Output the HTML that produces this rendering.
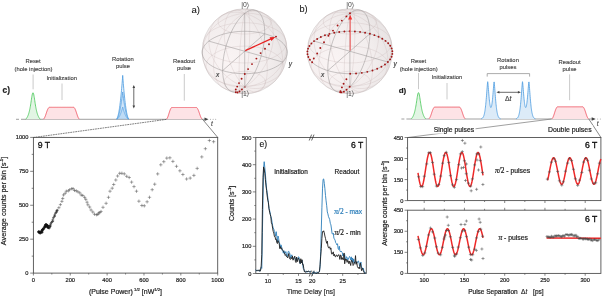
<!DOCTYPE html>
<html><head><meta charset="utf-8"><style>
html,body{margin:0;padding:0;background:#fff;}
svg{display:block;will-change:transform;font-family:"Liberation Sans", sans-serif;}
</style></head><body>
<svg width="602" height="296" viewBox="0 0 602 296">
<rect width="602" height="296" fill="#fff"/>
<line x1="16" y1="119.3" x2="19" y2="119.3" stroke="#888" stroke-width="0.8" />
<line x1="21" y1="119.3" x2="205" y2="119.3" stroke="#888" stroke-width="0.8" />
<path d="M208.5,119.3 L204.5,117.6 L204.5,121 Z" fill="#444"/>
<circle cx="210.5" cy="119.3" r="0.5" fill="#999"/>
<circle cx="213.1" cy="119.3" r="0.5" fill="#999"/>
<circle cx="215.7" cy="119.3" r="0.5" fill="#999"/>
<text x="211.8" y="125.9" font-size="6.5" text-anchor="middle" fill="#555" font-weight="normal" font-style="italic" stroke="#555" stroke-width="0.2" >t</text>
<path d="M24.2,119.3 L24.2,119.3 L24.42,119.3 L24.64,119.3 L24.86,119.3 L25.08,119.3 L25.3,119.3 L25.52,119.3 L25.74,119.26 L25.96,119.01 L26.18,118.75 L26.4,118.47 L26.62,118.16 L26.84,117.83 L27.06,117.47 L27.28,117.08 L27.5,116.66 L27.72,116.2 L27.94,115.71 L28.16,115.16 L28.38,114.57 L28.6,113.93 L28.82,113.22 L29.04,112.45 L29.26,111.62 L29.48,110.71 L29.7,109.72 L29.92,108.66 L30.14,107.5 L30.36,106.27 L30.58,104.96 L30.8,103.57 L31.02,102.13 L31.24,100.66 L31.46,99.18 L31.68,97.74 L31.9,96.38 L32.12,95.16 L32.34,94.14 L32.56,93.35 L32.78,92.87 L33,92.7 L33.22,92.87 L33.44,93.35 L33.66,94.14 L33.88,95.16 L34.1,96.38 L34.32,97.74 L34.54,99.18 L34.76,100.66 L34.98,102.13 L35.2,103.57 L35.42,104.96 L35.64,106.27 L35.86,107.5 L36.08,108.66 L36.3,109.72 L36.52,110.71 L36.74,111.62 L36.96,112.45 L37.18,113.22 L37.4,113.93 L37.62,114.57 L37.84,115.16 L38.06,115.71 L38.28,116.2 L38.5,116.66 L38.72,117.08 L38.94,117.47 L39.16,117.83 L39.38,118.16 L39.6,118.47 L39.82,118.75 L40.04,119.01 L40.26,119.26 L40.48,119.3 L40.7,119.3 L40.92,119.3 L41.14,119.3 L41.36,119.3 L41.58,119.3 L41.8,119.3 L41.8,119.3 Z" stroke="none" stroke-width="0" fill="#e2f5e4" />
<path d="M25.74,119.26 L25.96,119.01 L26.18,118.75 L26.4,118.47 L26.62,118.16 L26.84,117.83 L27.06,117.47 L27.28,117.08 L27.5,116.66 L27.72,116.2 L27.94,115.71 L28.16,115.16 L28.38,114.57 L28.6,113.93 L28.82,113.22 L29.04,112.45 L29.26,111.62 L29.48,110.71 L29.7,109.72 L29.92,108.66 L30.14,107.5 L30.36,106.27 L30.58,104.96 L30.8,103.57 L31.02,102.13 L31.24,100.66 L31.46,99.18 L31.68,97.74 L31.9,96.38 L32.12,95.16 L32.34,94.14 L32.56,93.35 L32.78,92.87 L33,92.7 L33.22,92.87 L33.44,93.35 L33.66,94.14 L33.88,95.16 L34.1,96.38 L34.32,97.74 L34.54,99.18 L34.76,100.66 L34.98,102.13 L35.2,103.57 L35.42,104.96 L35.64,106.27 L35.86,107.5 L36.08,108.66 L36.3,109.72 L36.52,110.71 L36.74,111.62 L36.96,112.45 L37.18,113.22 L37.4,113.93 L37.62,114.57 L37.84,115.16 L38.06,115.71 L38.28,116.2 L38.5,116.66 L38.72,117.08 L38.94,117.47 L39.16,117.83 L39.38,118.16 L39.6,118.47 L39.82,118.75 L40.04,119.01 L40.26,119.26" stroke="#45c655" stroke-width="0.8" fill="none" />
<path d="M42.4,119.3 L42.4,119.3 L42.64,119.3 L42.88,119.3 L43.11,119.3 L43.35,119.3 L43.59,119.11 L43.82,118.84 L44.06,118.53 L44.3,118.16 L44.54,117.74 L44.77,117.27 L45.01,116.74 L45.25,116.16 L45.49,115.53 L45.73,114.87 L45.96,114.17 L46.2,113.45 L46.44,112.73 L46.67,112.03 L46.91,111.34 L47.15,110.7 L47.39,110.09 L47.62,109.54 L47.86,109.05 L48.1,108.61 L48.34,108.22 L48.58,107.88 L48.81,107.59 L49.05,107.35 L49.29,107.3 L49.52,107.3 L49.76,107.3 L50,107.3 L50.24,107.3 L50.48,107.3 L50.71,107.3 L50.95,107.3 L51.19,107.3 L51.42,107.3 L51.66,107.3 L51.9,107.3 L52.14,107.3 L52.38,107.3 L52.61,107.3 L52.85,107.3 L53.09,107.3 L53.33,107.3 L53.56,107.3 L53.8,107.3 L54.04,107.3 L54.28,107.3 L54.51,107.3 L54.75,107.3 L54.99,107.3 L55.23,107.3 L55.46,107.3 L55.7,107.3 L55.94,107.3 L56.17,107.3 L56.41,107.3 L56.65,107.3 L56.89,107.3 L57.12,107.3 L57.36,107.3 L57.6,107.3 L57.84,107.3 L58.08,107.3 L58.31,107.3 L58.55,107.3 L58.79,107.3 L59.03,107.3 L59.26,107.3 L59.5,107.3 L59.74,107.3 L59.98,107.3 L60.21,107.3 L60.45,107.3 L60.69,107.3 L60.92,107.3 L61.16,107.3 L61.4,107.3 L61.64,107.3 L61.88,107.3 L62.11,107.3 L62.35,107.3 L62.59,107.3 L62.83,107.3 L63.06,107.3 L63.3,107.3 L63.54,107.3 L63.78,107.3 L64.01,107.3 L64.25,107.3 L64.49,107.3 L64.72,107.3 L64.96,107.3 L65.2,107.3 L65.44,107.3 L65.68,107.3 L65.91,107.3 L66.15,107.3 L66.39,107.3 L66.62,107.3 L66.86,107.3 L67.1,107.3 L67.34,107.3 L67.58,107.3 L67.81,107.3 L68.05,107.3 L68.29,107.3 L68.53,107.3 L68.76,107.3 L69,107.3 L69.24,107.3 L69.48,107.3 L69.71,107.3 L69.95,107.3 L70.19,107.3 L70.43,107.3 L70.66,107.3 L70.9,107.3 L71.14,107.3 L71.38,107.3 L71.61,107.3 L71.85,107.3 L72.09,107.3 L72.33,107.3 L72.56,107.3 L72.8,107.3 L73.04,107.3 L73.28,107.3 L73.51,107.3 L73.75,107.3 L73.99,107.39 L74.23,107.65 L74.46,107.96 L74.7,108.32 L74.94,108.74 L75.18,109.22 L75.41,109.75 L75.65,110.34 L75.89,110.99 L76.12,111.68 L76.36,112.4 L76.6,113.14 L76.84,113.89 L77.08,114.62 L77.31,115.32 L77.55,115.99 L77.79,116.61 L78.03,117.17 L78.26,117.67 L78.5,118.11 L78.74,118.49 L78.97,118.82 L79.21,119.11 L79.45,119.3 L79.69,119.3 L79.93,119.3 L80.16,119.3 L80.4,119.3 L80.4,119.3 Z" stroke="none" stroke-width="0" fill="#fde3e6" />
<path d="M43.59,119.11 L43.82,118.84 L44.06,118.53 L44.3,118.16 L44.54,117.74 L44.77,117.27 L45.01,116.74 L45.25,116.16 L45.49,115.53 L45.73,114.87 L45.96,114.17 L46.2,113.45 L46.44,112.73 L46.67,112.03 L46.91,111.34 L47.15,110.7 L47.39,110.09 L47.62,109.54 L47.86,109.05 L48.1,108.61 L48.34,108.22 L48.58,107.88 L48.81,107.59 L49.05,107.35 L49.29,107.3 L49.52,107.3 L49.76,107.3 L50,107.3 L50.24,107.3 L50.48,107.3 L50.71,107.3 L50.95,107.3 L51.19,107.3 L51.42,107.3 L51.66,107.3 L51.9,107.3 L52.14,107.3 L52.38,107.3 L52.61,107.3 L52.85,107.3 L53.09,107.3 L53.33,107.3 L53.56,107.3 L53.8,107.3 L54.04,107.3 L54.28,107.3 L54.51,107.3 L54.75,107.3 L54.99,107.3 L55.23,107.3 L55.46,107.3 L55.7,107.3 L55.94,107.3 L56.17,107.3 L56.41,107.3 L56.65,107.3 L56.89,107.3 L57.12,107.3 L57.36,107.3 L57.6,107.3 L57.84,107.3 L58.08,107.3 L58.31,107.3 L58.55,107.3 L58.79,107.3 L59.03,107.3 L59.26,107.3 L59.5,107.3 L59.74,107.3 L59.98,107.3 L60.21,107.3 L60.45,107.3 L60.69,107.3 L60.92,107.3 L61.16,107.3 L61.4,107.3 L61.64,107.3 L61.88,107.3 L62.11,107.3 L62.35,107.3 L62.59,107.3 L62.83,107.3 L63.06,107.3 L63.3,107.3 L63.54,107.3 L63.78,107.3 L64.01,107.3 L64.25,107.3 L64.49,107.3 L64.72,107.3 L64.96,107.3 L65.2,107.3 L65.44,107.3 L65.68,107.3 L65.91,107.3 L66.15,107.3 L66.39,107.3 L66.62,107.3 L66.86,107.3 L67.1,107.3 L67.34,107.3 L67.58,107.3 L67.81,107.3 L68.05,107.3 L68.29,107.3 L68.53,107.3 L68.76,107.3 L69,107.3 L69.24,107.3 L69.48,107.3 L69.71,107.3 L69.95,107.3 L70.19,107.3 L70.43,107.3 L70.66,107.3 L70.9,107.3 L71.14,107.3 L71.38,107.3 L71.61,107.3 L71.85,107.3 L72.09,107.3 L72.33,107.3 L72.56,107.3 L72.8,107.3 L73.04,107.3 L73.28,107.3 L73.51,107.3 L73.75,107.3 L73.99,107.39 L74.23,107.65 L74.46,107.96 L74.7,108.32 L74.94,108.74 L75.18,109.22 L75.41,109.75 L75.65,110.34 L75.89,110.99 L76.12,111.68 L76.36,112.4 L76.6,113.14 L76.84,113.89 L77.08,114.62 L77.31,115.32 L77.55,115.99 L77.79,116.61 L78.03,117.17 L78.26,117.67 L78.5,118.11 L78.74,118.49 L78.97,118.82 L79.21,119.11" stroke="#ee4d5c" stroke-width="0.85" fill="none" />
<path d="M114.5,119.3 L114.5,119.3 L114.7,119.3 L114.91,119.3 L115.11,119.3 L115.32,119.3 L115.53,119.3 L115.73,119.3 L115.94,119.3 L116.14,119.3 L116.34,119.28 L116.55,119.24 L116.75,119.17 L116.96,119.09 L117.17,118.99 L117.37,118.86 L117.58,118.71 L117.78,118.54 L117.98,118.34 L118.19,118.12 L118.39,117.88 L118.6,117.62 L118.81,117.32 L119.01,117.01 L119.22,116.67 L119.42,116.3 L119.62,115.91 L119.83,115.5 L120.03,115.06 L120.24,114.59 L120.44,114.1 L120.65,113.59 L120.86,113.05 L121.06,112.48 L121.27,111.89 L121.47,111.27 L121.67,110.62 L121.88,109.95 L122.08,109.25 L122.29,108.53 L122.5,107.78 L122.7,107 L122.91,107.78 L123.11,108.53 L123.31,109.25 L123.52,109.95 L123.72,110.62 L123.93,111.27 L124.14,111.89 L124.34,112.48 L124.55,113.05 L124.75,113.59 L124.95,114.1 L125.16,114.59 L125.36,115.06 L125.57,115.5 L125.78,115.91 L125.98,116.3 L126.19,116.67 L126.39,117.01 L126.59,117.32 L126.8,117.62 L127,117.88 L127.21,118.12 L127.41,118.34 L127.62,118.54 L127.83,118.71 L128.03,118.86 L128.24,118.99 L128.44,119.09 L128.65,119.17 L128.85,119.24 L129.06,119.28 L129.26,119.3 L129.47,119.3 L129.67,119.3 L129.88,119.3 L130.08,119.3 L130.28,119.3 L130.49,119.3 L130.69,119.3 L130.9,119.3 L130.9,119.3 Z" stroke="none" stroke-width="0" fill="rgba(130,185,235,0.22)" />
<path d="M116.96,119.09 L117.17,118.99 L117.37,118.86 L117.58,118.71 L117.78,118.54 L117.98,118.34 L118.19,118.12 L118.39,117.88 L118.6,117.62 L118.81,117.32 L119.01,117.01 L119.22,116.67 L119.42,116.3 L119.62,115.91 L119.83,115.5 L120.03,115.06 L120.24,114.59 L120.44,114.1 L120.65,113.59 L120.86,113.05 L121.06,112.48 L121.27,111.89 L121.47,111.27 L121.67,110.62 L121.88,109.95 L122.08,109.25 L122.29,108.53 L122.5,107.78 L122.7,107 L122.91,107.78 L123.11,108.53 L123.31,109.25 L123.52,109.95 L123.72,110.62 L123.93,111.27 L124.14,111.89 L124.34,112.48 L124.55,113.05 L124.75,113.59 L124.95,114.1 L125.16,114.59 L125.36,115.06 L125.57,115.5 L125.78,115.91 L125.98,116.3 L126.19,116.67 L126.39,117.01 L126.59,117.32 L126.8,117.62 L127,117.88 L127.21,118.12 L127.41,118.34 L127.62,118.54 L127.83,118.71 L128.03,118.86 L128.24,118.99 L128.44,119.09" stroke="#4a9ae0" stroke-width="0.8" fill="none" />
<path d="M114.5,119.3 L114.5,119.3 L114.7,119.3 L114.91,119.3 L115.11,119.3 L115.32,119.3 L115.53,119.3 L115.73,119.3 L115.94,119.3 L116.14,119.29 L116.34,119.25 L116.55,119.16 L116.75,119.02 L116.96,118.84 L117.17,118.61 L117.37,118.33 L117.58,117.99 L117.78,117.61 L117.98,117.18 L118.19,116.69 L118.39,116.15 L118.6,115.56 L118.81,114.91 L119.01,114.21 L119.22,113.46 L119.42,112.65 L119.62,111.78 L119.83,110.86 L120.03,109.89 L120.24,108.86 L120.44,107.77 L120.65,106.62 L120.86,105.42 L121.06,104.16 L121.27,102.84 L121.47,101.47 L121.67,100.04 L121.88,98.55 L122.08,97 L122.29,95.39 L122.5,93.72 L122.7,92 L122.91,93.72 L123.11,95.39 L123.31,97 L123.52,98.55 L123.72,100.04 L123.93,101.47 L124.14,102.84 L124.34,104.16 L124.55,105.42 L124.75,106.62 L124.95,107.77 L125.16,108.86 L125.36,109.89 L125.57,110.86 L125.78,111.78 L125.98,112.65 L126.19,113.46 L126.39,114.21 L126.59,114.91 L126.8,115.56 L127,116.15 L127.21,116.69 L127.41,117.18 L127.62,117.61 L127.83,117.99 L128.03,118.33 L128.24,118.61 L128.44,118.84 L128.65,119.02 L128.85,119.16 L129.06,119.25 L129.26,119.29 L129.47,119.3 L129.67,119.3 L129.88,119.3 L130.08,119.3 L130.28,119.3 L130.49,119.3 L130.69,119.3 L130.9,119.3 L130.9,119.3 Z" stroke="none" stroke-width="0" fill="rgba(130,185,235,0.22)" />
<path d="M116.55,119.16 L116.75,119.02 L116.96,118.84 L117.17,118.61 L117.37,118.33 L117.58,117.99 L117.78,117.61 L117.98,117.18 L118.19,116.69 L118.39,116.15 L118.6,115.56 L118.81,114.91 L119.01,114.21 L119.22,113.46 L119.42,112.65 L119.62,111.78 L119.83,110.86 L120.03,109.89 L120.24,108.86 L120.44,107.77 L120.65,106.62 L120.86,105.42 L121.06,104.16 L121.27,102.84 L121.47,101.47 L121.67,100.04 L121.88,98.55 L122.08,97 L122.29,95.39 L122.5,93.72 L122.7,92 L122.91,93.72 L123.11,95.39 L123.31,97 L123.52,98.55 L123.72,100.04 L123.93,101.47 L124.14,102.84 L124.34,104.16 L124.55,105.42 L124.75,106.62 L124.95,107.77 L125.16,108.86 L125.36,109.89 L125.57,110.86 L125.78,111.78 L125.98,112.65 L126.19,113.46 L126.39,114.21 L126.59,114.91 L126.8,115.56 L127,116.15 L127.21,116.69 L127.41,117.18 L127.62,117.61 L127.83,117.99 L128.03,118.33 L128.24,118.61 L128.44,118.84 L128.65,119.02 L128.85,119.16" stroke="#4a9ae0" stroke-width="0.8" fill="none" />
<path d="M114.5,119.3 L114.5,119.3 L114.7,119.3 L114.91,119.3 L115.11,119.3 L115.32,119.3 L115.53,119.3 L115.73,119.3 L115.94,119.3 L116.14,119.29 L116.34,119.21 L116.55,119.07 L116.75,118.85 L116.96,118.56 L117.17,118.19 L117.37,117.73 L117.58,117.2 L117.78,116.59 L117.98,115.89 L118.19,115.11 L118.39,114.24 L118.6,113.29 L118.81,112.25 L119.01,111.12 L119.22,109.91 L119.42,108.61 L119.62,107.21 L119.83,105.73 L120.03,104.17 L120.24,102.51 L120.44,100.75 L120.65,98.91 L120.86,96.98 L121.06,94.95 L121.27,92.84 L121.47,90.63 L121.67,88.32 L121.88,85.93 L122.08,83.44 L122.29,80.85 L122.5,78.17 L122.7,75.4 L122.91,78.17 L123.11,80.85 L123.31,83.44 L123.52,85.93 L123.72,88.32 L123.93,90.63 L124.14,92.84 L124.34,94.95 L124.55,96.98 L124.75,98.91 L124.95,100.75 L125.16,102.51 L125.36,104.17 L125.57,105.73 L125.78,107.21 L125.98,108.61 L126.19,109.91 L126.39,111.12 L126.59,112.25 L126.8,113.29 L127,114.24 L127.21,115.11 L127.41,115.89 L127.62,116.59 L127.83,117.2 L128.03,117.73 L128.24,118.19 L128.44,118.56 L128.65,118.85 L128.85,119.07 L129.06,119.21 L129.26,119.29 L129.47,119.3 L129.67,119.3 L129.88,119.3 L130.08,119.3 L130.28,119.3 L130.49,119.3 L130.69,119.3 L130.9,119.3 L130.9,119.3 Z" stroke="none" stroke-width="0" fill="rgba(130,185,235,0.22)" />
<path d="M116.55,119.07 L116.75,118.85 L116.96,118.56 L117.17,118.19 L117.37,117.73 L117.58,117.2 L117.78,116.59 L117.98,115.89 L118.19,115.11 L118.39,114.24 L118.6,113.29 L118.81,112.25 L119.01,111.12 L119.22,109.91 L119.42,108.61 L119.62,107.21 L119.83,105.73 L120.03,104.17 L120.24,102.51 L120.44,100.75 L120.65,98.91 L120.86,96.98 L121.06,94.95 L121.27,92.84 L121.47,90.63 L121.67,88.32 L121.88,85.93 L122.08,83.44 L122.29,80.85 L122.5,78.17 L122.7,75.4 L122.91,78.17 L123.11,80.85 L123.31,83.44 L123.52,85.93 L123.72,88.32 L123.93,90.63 L124.14,92.84 L124.34,94.95 L124.55,96.98 L124.75,98.91 L124.95,100.75 L125.16,102.51 L125.36,104.17 L125.57,105.73 L125.78,107.21 L125.98,108.61 L126.19,109.91 L126.39,111.12 L126.59,112.25 L126.8,113.29 L127,114.24 L127.21,115.11 L127.41,115.89 L127.62,116.59 L127.83,117.2 L128.03,117.73 L128.24,118.19 L128.44,118.56 L128.65,118.85 L128.85,119.07" stroke="#4a9ae0" stroke-width="0.8" fill="none" />
<path d="M165.4,119.3 L165.4,119.3 L165.64,119.3 L165.87,119.3 L166.11,119.3 L166.35,119.3 L166.58,119.1 L166.82,118.81 L167.06,118.46 L167.3,118.05 L167.53,117.58 L167.77,117.04 L168.01,116.44 L168.24,115.78 L168.48,115.07 L168.72,114.32 L168.95,113.55 L169.19,112.78 L169.43,112.02 L169.66,111.3 L169.9,110.62 L170.14,109.99 L170.37,109.43 L170.61,108.93 L170.85,108.5 L171.09,108.13 L171.32,107.81 L171.56,107.54 L171.8,107.5 L172.03,107.5 L172.27,107.5 L172.51,107.5 L172.74,107.5 L172.98,107.5 L173.22,107.5 L173.45,107.5 L173.69,107.5 L173.93,107.5 L174.16,107.5 L174.4,107.5 L174.64,107.5 L174.88,107.5 L175.11,107.5 L175.35,107.5 L175.59,107.5 L175.82,107.5 L176.06,107.5 L176.3,107.5 L176.53,107.5 L176.77,107.5 L177.01,107.5 L177.24,107.5 L177.48,107.5 L177.72,107.5 L177.95,107.5 L178.19,107.5 L178.43,107.5 L178.67,107.5 L178.9,107.5 L179.14,107.5 L179.38,107.5 L179.61,107.5 L179.85,107.5 L180.09,107.5 L180.32,107.5 L180.56,107.5 L180.8,107.5 L181.03,107.5 L181.27,107.5 L181.51,107.5 L181.74,107.5 L181.98,107.5 L182.22,107.5 L182.46,107.5 L182.69,107.5 L182.93,107.5 L183.17,107.5 L183.4,107.5 L183.64,107.5 L183.88,107.5 L184.11,107.5 L184.35,107.5 L184.59,107.5 L184.82,107.5 L185.06,107.5 L185.3,107.5 L185.53,107.5 L185.77,107.5 L186.01,107.5 L186.25,107.5 L186.48,107.5 L186.72,107.5 L186.96,107.5 L187.19,107.5 L187.43,107.5 L187.67,107.5 L187.9,107.5 L188.14,107.5 L188.38,107.5 L188.61,107.5 L188.85,107.5 L189.09,107.5 L189.32,107.5 L189.56,107.5 L189.8,107.5 L190.03,107.5 L190.27,107.5 L190.51,107.5 L190.75,107.5 L190.98,107.5 L191.22,107.5 L191.46,107.5 L191.69,107.5 L191.93,107.5 L192.17,107.5 L192.4,107.5 L192.64,107.5 L192.88,107.5 L193.11,107.5 L193.35,107.5 L193.59,107.5 L193.83,107.5 L194.06,107.5 L194.3,107.5 L194.54,107.5 L194.77,107.5 L195.01,107.5 L195.25,107.5 L195.48,107.5 L195.72,107.5 L195.96,107.5 L196.19,107.5 L196.43,107.5 L196.67,107.56 L196.9,107.81 L197.14,108.09 L197.38,108.43 L197.62,108.81 L197.85,109.25 L198.09,109.74 L198.33,110.28 L198.56,110.87 L198.8,111.51 L199.04,112.18 L199.27,112.87 L199.51,113.58 L199.75,114.28 L199.98,114.96 L200.22,115.62 L200.46,116.23 L200.69,116.8 L200.93,117.32 L201.17,117.78 L201.41,118.19 L201.64,118.55 L201.88,118.86 L202.12,119.12 L202.35,119.3 L202.59,119.3 L202.83,119.3 L203.06,119.3 L203.3,119.3 L203.3,119.3 Z" stroke="none" stroke-width="0" fill="#fde3e6" />
<path d="M166.58,119.1 L166.82,118.81 L167.06,118.46 L167.3,118.05 L167.53,117.58 L167.77,117.04 L168.01,116.44 L168.24,115.78 L168.48,115.07 L168.72,114.32 L168.95,113.55 L169.19,112.78 L169.43,112.02 L169.66,111.3 L169.9,110.62 L170.14,109.99 L170.37,109.43 L170.61,108.93 L170.85,108.5 L171.09,108.13 L171.32,107.81 L171.56,107.54 L171.8,107.5 L172.03,107.5 L172.27,107.5 L172.51,107.5 L172.74,107.5 L172.98,107.5 L173.22,107.5 L173.45,107.5 L173.69,107.5 L173.93,107.5 L174.16,107.5 L174.4,107.5 L174.64,107.5 L174.88,107.5 L175.11,107.5 L175.35,107.5 L175.59,107.5 L175.82,107.5 L176.06,107.5 L176.3,107.5 L176.53,107.5 L176.77,107.5 L177.01,107.5 L177.24,107.5 L177.48,107.5 L177.72,107.5 L177.95,107.5 L178.19,107.5 L178.43,107.5 L178.67,107.5 L178.9,107.5 L179.14,107.5 L179.38,107.5 L179.61,107.5 L179.85,107.5 L180.09,107.5 L180.32,107.5 L180.56,107.5 L180.8,107.5 L181.03,107.5 L181.27,107.5 L181.51,107.5 L181.74,107.5 L181.98,107.5 L182.22,107.5 L182.46,107.5 L182.69,107.5 L182.93,107.5 L183.17,107.5 L183.4,107.5 L183.64,107.5 L183.88,107.5 L184.11,107.5 L184.35,107.5 L184.59,107.5 L184.82,107.5 L185.06,107.5 L185.3,107.5 L185.53,107.5 L185.77,107.5 L186.01,107.5 L186.25,107.5 L186.48,107.5 L186.72,107.5 L186.96,107.5 L187.19,107.5 L187.43,107.5 L187.67,107.5 L187.9,107.5 L188.14,107.5 L188.38,107.5 L188.61,107.5 L188.85,107.5 L189.09,107.5 L189.32,107.5 L189.56,107.5 L189.8,107.5 L190.03,107.5 L190.27,107.5 L190.51,107.5 L190.75,107.5 L190.98,107.5 L191.22,107.5 L191.46,107.5 L191.69,107.5 L191.93,107.5 L192.17,107.5 L192.4,107.5 L192.64,107.5 L192.88,107.5 L193.11,107.5 L193.35,107.5 L193.59,107.5 L193.83,107.5 L194.06,107.5 L194.3,107.5 L194.54,107.5 L194.77,107.5 L195.01,107.5 L195.25,107.5 L195.48,107.5 L195.72,107.5 L195.96,107.5 L196.19,107.5 L196.43,107.5 L196.67,107.56 L196.9,107.81 L197.14,108.09 L197.38,108.43 L197.62,108.81 L197.85,109.25 L198.09,109.74 L198.33,110.28 L198.56,110.87 L198.8,111.51 L199.04,112.18 L199.27,112.87 L199.51,113.58 L199.75,114.28 L199.98,114.96 L200.22,115.62 L200.46,116.23 L200.69,116.8 L200.93,117.32 L201.17,117.78 L201.41,118.19 L201.64,118.55 L201.88,118.86 L202.12,119.12" stroke="#ee4d5c" stroke-width="0.85" fill="none" />
<line x1="133.8" y1="86.5" x2="133.8" y2="107" stroke="#444" stroke-width="0.8" />
<path d="M133.8,85 L132.5,88 L135.1,88 Z M133.8,108.4 L132.5,105.4 L135.1,105.4 Z" fill="#444"/>
<line x1="33.1" y1="74.5" x2="33.1" y2="89.3" stroke="#bdbdbd" stroke-width="0.8" />
<line x1="62" y1="83.5" x2="62" y2="100" stroke="#bdbdbd" stroke-width="0.8" />
<line x1="184.3" y1="74" x2="184.3" y2="100.7" stroke="#bdbdbd" stroke-width="0.8" />
<text x="33.1" y="63.3" font-size="6.1" text-anchor="middle" fill="#444" stroke="#444" stroke-width="0.14" textLength="15.28" lengthAdjust="spacingAndGlyphs">Reset</text>
<text x="33.5" y="70.5" font-size="6.1" text-anchor="middle" fill="#444" stroke="#444" stroke-width="0.14" textLength="38.04" lengthAdjust="spacingAndGlyphs">(hole injection)</text>
<text x="61.7" y="79.9" font-size="6.1" text-anchor="middle" fill="#444" stroke="#444" stroke-width="0.14" textLength="30.57" lengthAdjust="spacingAndGlyphs">Initialization</text>
<text x="122.9" y="61.3" font-size="6.1" text-anchor="middle" fill="#444" stroke="#444" stroke-width="0.14" textLength="21.79" lengthAdjust="spacingAndGlyphs">Rotation</text>
<text x="122.9" y="68.2" font-size="6.1" text-anchor="middle" fill="#444" stroke="#444" stroke-width="0.14" textLength="13.98" lengthAdjust="spacingAndGlyphs">pulse</text>
<text x="184.1" y="63.1" font-size="6.1" text-anchor="middle" fill="#444" stroke="#444" stroke-width="0.14" textLength="22.12" lengthAdjust="spacingAndGlyphs">Readout</text>
<text x="184.1" y="70.3" font-size="6.1" text-anchor="middle" fill="#444" stroke="#444" stroke-width="0.14" textLength="13.98" lengthAdjust="spacingAndGlyphs">pulse</text>
<text x="2.6" y="93.3" font-size="8.4" text-anchor="start" fill="#222" font-weight="bold" font-style="normal" stroke="#222" stroke-width="0.2" >c)</text>
<line x1="401.4" y1="119" x2="404.4" y2="119" stroke="#888" stroke-width="0.8" />
<line x1="406.4" y1="119" x2="592.2" y2="119" stroke="#888" stroke-width="0.8" />
<path d="M595.7,119 L591.7,117.3 L591.7,120.7 Z" fill="#444"/>
<circle cx="597.7" cy="119" r="0.5" fill="#999"/>
<circle cx="600.3" cy="119" r="0.5" fill="#999"/>
<circle cx="602.9" cy="119" r="0.5" fill="#999"/>
<text x="597.6" y="125.6" font-size="6.5" text-anchor="middle" fill="#555" font-weight="normal" font-style="italic" stroke="#555" stroke-width="0.2" >t</text>
<path d="M409.7,119 L409.7,119 L409.92,119 L410.14,119 L410.36,119 L410.58,119 L410.8,119 L411.02,119 L411.24,118.96 L411.46,118.72 L411.68,118.46 L411.9,118.17 L412.12,117.87 L412.34,117.54 L412.56,117.19 L412.78,116.8 L413,116.38 L413.22,115.93 L413.44,115.43 L413.66,114.89 L413.88,114.31 L414.1,113.67 L414.32,112.97 L414.54,112.21 L414.76,111.38 L414.98,110.47 L415.2,109.5 L415.42,108.44 L415.64,107.29 L415.86,106.07 L416.08,104.76 L416.3,103.39 L416.52,101.96 L416.74,100.5 L416.96,99.04 L417.18,97.61 L417.4,96.26 L417.62,95.04 L417.84,94.02 L418.06,93.25 L418.28,92.77 L418.5,92.6 L418.72,92.77 L418.94,93.25 L419.16,94.02 L419.38,95.04 L419.6,96.26 L419.82,97.61 L420.04,99.04 L420.26,100.5 L420.48,101.96 L420.7,103.39 L420.92,104.76 L421.14,106.07 L421.36,107.29 L421.58,108.44 L421.8,109.5 L422.02,110.47 L422.24,111.38 L422.46,112.21 L422.68,112.97 L422.9,113.67 L423.12,114.31 L423.34,114.89 L423.56,115.43 L423.78,115.93 L424,116.38 L424.22,116.8 L424.44,117.19 L424.66,117.54 L424.88,117.87 L425.1,118.17 L425.32,118.46 L425.54,118.72 L425.76,118.96 L425.98,119 L426.2,119 L426.42,119 L426.64,119 L426.86,119 L427.08,119 L427.3,119 L427.3,119 Z" stroke="none" stroke-width="0" fill="#e2f5e4" />
<path d="M411.24,118.96 L411.46,118.72 L411.68,118.46 L411.9,118.17 L412.12,117.87 L412.34,117.54 L412.56,117.19 L412.78,116.8 L413,116.38 L413.22,115.93 L413.44,115.43 L413.66,114.89 L413.88,114.31 L414.1,113.67 L414.32,112.97 L414.54,112.21 L414.76,111.38 L414.98,110.47 L415.2,109.5 L415.42,108.44 L415.64,107.29 L415.86,106.07 L416.08,104.76 L416.3,103.39 L416.52,101.96 L416.74,100.5 L416.96,99.04 L417.18,97.61 L417.4,96.26 L417.62,95.04 L417.84,94.02 L418.06,93.25 L418.28,92.77 L418.5,92.6 L418.72,92.77 L418.94,93.25 L419.16,94.02 L419.38,95.04 L419.6,96.26 L419.82,97.61 L420.04,99.04 L420.26,100.5 L420.48,101.96 L420.7,103.39 L420.92,104.76 L421.14,106.07 L421.36,107.29 L421.58,108.44 L421.8,109.5 L422.02,110.47 L422.24,111.38 L422.46,112.21 L422.68,112.97 L422.9,113.67 L423.12,114.31 L423.34,114.89 L423.56,115.43 L423.78,115.93 L424,116.38 L424.22,116.8 L424.44,117.19 L424.66,117.54 L424.88,117.87 L425.1,118.17 L425.32,118.46 L425.54,118.72 L425.76,118.96" stroke="#45c655" stroke-width="0.8" fill="none" />
<path d="M427.8,119 L427.8,119 L428.04,119 L428.28,119 L428.52,119 L428.76,119 L429,118.8 L429.24,118.51 L429.48,118.19 L429.73,117.8 L429.97,117.37 L430.21,116.87 L430.45,116.32 L430.69,115.71 L430.93,115.05 L431.17,114.35 L431.41,113.63 L431.65,112.9 L431.89,112.17 L432.13,111.45 L432.37,110.77 L432.61,110.13 L432.85,109.55 L433.09,109.02 L433.33,108.55 L433.57,108.13 L433.82,107.77 L434.06,107.46 L434.3,107.2 L434.54,107.1 L434.78,107.1 L435.02,107.1 L435.26,107.1 L435.5,107.1 L435.74,107.1 L435.98,107.1 L436.22,107.1 L436.46,107.1 L436.7,107.1 L436.94,107.1 L437.18,107.1 L437.43,107.1 L437.67,107.1 L437.91,107.1 L438.15,107.1 L438.39,107.1 L438.63,107.1 L438.87,107.1 L439.11,107.1 L439.35,107.1 L439.59,107.1 L439.83,107.1 L440.07,107.1 L440.31,107.1 L440.55,107.1 L440.79,107.1 L441.03,107.1 L441.28,107.1 L441.52,107.1 L441.76,107.1 L442,107.1 L442.24,107.1 L442.48,107.1 L442.72,107.1 L442.96,107.1 L443.2,107.1 L443.44,107.1 L443.68,107.1 L443.92,107.1 L444.16,107.1 L444.4,107.1 L444.64,107.1 L444.88,107.1 L445.12,107.1 L445.37,107.1 L445.61,107.1 L445.85,107.1 L446.09,107.1 L446.33,107.1 L446.57,107.1 L446.81,107.1 L447.05,107.1 L447.29,107.1 L447.53,107.1 L447.77,107.1 L448.01,107.1 L448.25,107.1 L448.49,107.1 L448.73,107.1 L448.98,107.1 L449.22,107.1 L449.46,107.1 L449.7,107.1 L449.94,107.1 L450.18,107.1 L450.42,107.1 L450.66,107.1 L450.9,107.1 L451.14,107.1 L451.38,107.1 L451.62,107.1 L451.86,107.1 L452.1,107.1 L452.34,107.1 L452.58,107.1 L452.82,107.1 L453.07,107.1 L453.31,107.1 L453.55,107.1 L453.79,107.1 L454.03,107.1 L454.27,107.1 L454.51,107.1 L454.75,107.1 L454.99,107.1 L455.23,107.1 L455.47,107.1 L455.71,107.1 L455.95,107.1 L456.19,107.1 L456.43,107.1 L456.68,107.1 L456.92,107.1 L457.16,107.1 L457.4,107.1 L457.64,107.1 L457.88,107.1 L458.12,107.1 L458.36,107.1 L458.6,107.1 L458.84,107.1 L459.08,107.1 L459.32,107.1 L459.56,107.1 L459.8,107.2 L460.04,107.46 L460.28,107.77 L460.53,108.13 L460.77,108.55 L461.01,109.02 L461.25,109.55 L461.49,110.13 L461.73,110.77 L461.97,111.45 L462.21,112.17 L462.45,112.9 L462.69,113.63 L462.93,114.35 L463.17,115.05 L463.41,115.71 L463.65,116.32 L463.89,116.87 L464.13,117.37 L464.38,117.8 L464.62,118.19 L464.86,118.51 L465.1,118.8 L465.34,119 L465.58,119 L465.82,119 L466.06,119 L466.3,119 L466.3,119 Z" stroke="none" stroke-width="0" fill="#fde3e6" />
<path d="M429,118.8 L429.24,118.51 L429.48,118.19 L429.73,117.8 L429.97,117.37 L430.21,116.87 L430.45,116.32 L430.69,115.71 L430.93,115.05 L431.17,114.35 L431.41,113.63 L431.65,112.9 L431.89,112.17 L432.13,111.45 L432.37,110.77 L432.61,110.13 L432.85,109.55 L433.09,109.02 L433.33,108.55 L433.57,108.13 L433.82,107.77 L434.06,107.46 L434.3,107.2 L434.54,107.1 L434.78,107.1 L435.02,107.1 L435.26,107.1 L435.5,107.1 L435.74,107.1 L435.98,107.1 L436.22,107.1 L436.46,107.1 L436.7,107.1 L436.94,107.1 L437.18,107.1 L437.43,107.1 L437.67,107.1 L437.91,107.1 L438.15,107.1 L438.39,107.1 L438.63,107.1 L438.87,107.1 L439.11,107.1 L439.35,107.1 L439.59,107.1 L439.83,107.1 L440.07,107.1 L440.31,107.1 L440.55,107.1 L440.79,107.1 L441.03,107.1 L441.28,107.1 L441.52,107.1 L441.76,107.1 L442,107.1 L442.24,107.1 L442.48,107.1 L442.72,107.1 L442.96,107.1 L443.2,107.1 L443.44,107.1 L443.68,107.1 L443.92,107.1 L444.16,107.1 L444.4,107.1 L444.64,107.1 L444.88,107.1 L445.12,107.1 L445.37,107.1 L445.61,107.1 L445.85,107.1 L446.09,107.1 L446.33,107.1 L446.57,107.1 L446.81,107.1 L447.05,107.1 L447.29,107.1 L447.53,107.1 L447.77,107.1 L448.01,107.1 L448.25,107.1 L448.49,107.1 L448.73,107.1 L448.98,107.1 L449.22,107.1 L449.46,107.1 L449.7,107.1 L449.94,107.1 L450.18,107.1 L450.42,107.1 L450.66,107.1 L450.9,107.1 L451.14,107.1 L451.38,107.1 L451.62,107.1 L451.86,107.1 L452.1,107.1 L452.34,107.1 L452.58,107.1 L452.82,107.1 L453.07,107.1 L453.31,107.1 L453.55,107.1 L453.79,107.1 L454.03,107.1 L454.27,107.1 L454.51,107.1 L454.75,107.1 L454.99,107.1 L455.23,107.1 L455.47,107.1 L455.71,107.1 L455.95,107.1 L456.19,107.1 L456.43,107.1 L456.68,107.1 L456.92,107.1 L457.16,107.1 L457.4,107.1 L457.64,107.1 L457.88,107.1 L458.12,107.1 L458.36,107.1 L458.6,107.1 L458.84,107.1 L459.08,107.1 L459.32,107.1 L459.56,107.1 L459.8,107.2 L460.04,107.46 L460.28,107.77 L460.53,108.13 L460.77,108.55 L461.01,109.02 L461.25,109.55 L461.49,110.13 L461.73,110.77 L461.97,111.45 L462.21,112.17 L462.45,112.9 L462.69,113.63 L462.93,114.35 L463.17,115.05 L463.41,115.71 L463.65,116.32 L463.89,116.87 L464.13,117.37 L464.38,117.8 L464.62,118.19 L464.86,118.51 L465.1,118.8" stroke="#ee4d5c" stroke-width="0.85" fill="none" />
<path d="M479,119 L479,118.98 L479.15,118.98 L479.3,118.97 L479.45,118.97 L479.6,118.96 L479.75,118.95 L479.9,118.94 L480.05,118.93 L480.2,118.92 L480.35,118.91 L480.5,118.89 L480.65,118.87 L480.8,118.84 L480.95,118.82 L481.1,118.78 L481.25,118.74 L481.4,118.7 L481.55,118.65 L481.7,118.59 L481.85,118.52 L482,118.44 L482.15,118.34 L482.3,118.24 L482.45,118.11 L482.6,117.97 L482.75,117.81 L482.9,117.62 L483.05,117.41 L483.2,117.17 L483.35,116.89 L483.5,116.58 L483.65,116.23 L483.8,115.84 L483.95,115.39 L484.1,114.89 L484.25,114.33 L484.4,113.71 L484.55,113.02 L484.7,112.26 L484.85,111.41 L485,110.48 L485.15,109.46 L485.3,108.34 L485.45,107.13 L485.6,105.81 L485.75,104.39 L485.9,102.87 L486.05,101.25 L486.2,99.54 L486.35,97.73 L486.5,95.84 L486.65,93.89 L486.8,91.9 L486.95,89.89 L487.1,87.9 L487.25,85.98 L487.4,84.2 L487.55,82.68 L487.7,81.7 L487.85,82.59 L488,84.03 L488.15,85.71 L488.3,87.53 L488.45,89.41 L488.6,91.31 L488.75,93.17 L488.9,94.98 L489.05,96.71 L489.2,98.33 L489.35,99.85 L489.5,101.24 L489.65,102.5 L489.8,103.63 L489.95,104.62 L490.1,105.46 L490.25,106.17 L490.4,106.72 L490.55,107.14 L490.7,107.4 L490.85,107.52 L491,107.5 L491.15,107.33 L491.3,107.01 L491.45,106.55 L491.6,105.95 L491.75,105.2 L491.9,104.31 L492.05,103.27 L492.2,102.1 L492.35,100.79 L492.5,99.36 L492.65,97.8 L492.8,96.14 L492.95,94.39 L493.1,92.56 L493.25,90.68 L493.4,88.78 L493.55,86.92 L493.7,85.13 L493.85,83.51 L494,82.21 L494.15,81.92 L494.3,83.15 L494.45,84.78 L494.6,86.61 L494.75,88.56 L494.9,90.56 L495.05,92.57 L495.2,94.55 L495.35,96.48 L495.5,98.34 L495.65,100.12 L495.8,101.81 L495.95,103.39 L496.1,104.88 L496.25,106.26 L496.4,107.54 L496.55,108.72 L496.7,109.81 L496.85,110.8 L497,111.7 L497.15,112.52 L497.3,113.26 L497.45,113.93 L497.6,114.53 L497.75,115.06 L497.9,115.54 L498.05,115.97 L498.2,116.35 L498.35,116.69 L498.5,116.99 L498.65,117.25 L498.8,117.48 L498.95,117.69 L499.1,117.86 L499.25,118.02 L499.4,118.15 L499.55,118.27 L499.7,118.38 L499.85,118.46 L500,118.54 L500.15,118.61 L500.3,118.67 L500.45,118.72 L500.6,118.76 L500.75,118.79 L500.9,118.83 L501.05,118.85 L501.2,118.88 L501.35,118.89 L501.5,118.91 L501.65,118.93 L501.8,118.94 L501.95,118.95 L502.1,118.96 L502.25,118.96 L502.4,118.97 L502.55,118.97 L502.7,118.98 L502.85,118.98 L503,118.98 L503,119 Z" stroke="none" stroke-width="0" fill="#dcebf8" />
<path d="M481.1,118.78 L481.25,118.74 L481.4,118.7 L481.55,118.65 L481.7,118.59 L481.85,118.52 L482,118.44 L482.15,118.34 L482.3,118.24 L482.45,118.11 L482.6,117.97 L482.75,117.81 L482.9,117.62 L483.05,117.41 L483.2,117.17 L483.35,116.89 L483.5,116.58 L483.65,116.23 L483.8,115.84 L483.95,115.39 L484.1,114.89 L484.25,114.33 L484.4,113.71 L484.55,113.02 L484.7,112.26 L484.85,111.41 L485,110.48 L485.15,109.46 L485.3,108.34 L485.45,107.13 L485.6,105.81 L485.75,104.39 L485.9,102.87 L486.05,101.25 L486.2,99.54 L486.35,97.73 L486.5,95.84 L486.65,93.89 L486.8,91.9 L486.95,89.89 L487.1,87.9 L487.25,85.98 L487.4,84.2 L487.55,82.68 L487.7,81.7 L487.85,82.59 L488,84.03 L488.15,85.71 L488.3,87.53 L488.45,89.41 L488.6,91.31 L488.75,93.17 L488.9,94.98 L489.05,96.71 L489.2,98.33 L489.35,99.85 L489.5,101.24 L489.65,102.5 L489.8,103.63 L489.95,104.62 L490.1,105.46 L490.25,106.17 L490.4,106.72 L490.55,107.14 L490.7,107.4 L490.85,107.52 L491,107.5 L491.15,107.33 L491.3,107.01 L491.45,106.55 L491.6,105.95 L491.75,105.2 L491.9,104.31 L492.05,103.27 L492.2,102.1 L492.35,100.79 L492.5,99.36 L492.65,97.8 L492.8,96.14 L492.95,94.39 L493.1,92.56 L493.25,90.68 L493.4,88.78 L493.55,86.92 L493.7,85.13 L493.85,83.51 L494,82.21 L494.15,81.92 L494.3,83.15 L494.45,84.78 L494.6,86.61 L494.75,88.56 L494.9,90.56 L495.05,92.57 L495.2,94.55 L495.35,96.48 L495.5,98.34 L495.65,100.12 L495.8,101.81 L495.95,103.39 L496.1,104.88 L496.25,106.26 L496.4,107.54 L496.55,108.72 L496.7,109.81 L496.85,110.8 L497,111.7 L497.15,112.52 L497.3,113.26 L497.45,113.93 L497.6,114.53 L497.75,115.06 L497.9,115.54 L498.05,115.97 L498.2,116.35 L498.35,116.69 L498.5,116.99 L498.65,117.25 L498.8,117.48 L498.95,117.69 L499.1,117.86 L499.25,118.02 L499.4,118.15 L499.55,118.27 L499.7,118.38 L499.85,118.46 L500,118.54 L500.15,118.61 L500.3,118.67 L500.45,118.72 L500.6,118.76" stroke="#4a9ae0" stroke-width="0.8" fill="none" />
<path d="M513.8,119 L513.8,118.98 L513.95,118.98 L514.1,118.97 L514.25,118.97 L514.4,118.96 L514.55,118.95 L514.7,118.94 L514.85,118.93 L515,118.92 L515.15,118.91 L515.3,118.89 L515.45,118.87 L515.6,118.84 L515.75,118.82 L515.9,118.78 L516.05,118.74 L516.2,118.7 L516.35,118.65 L516.5,118.59 L516.65,118.52 L516.8,118.44 L516.95,118.34 L517.1,118.24 L517.25,118.11 L517.4,117.97 L517.55,117.81 L517.7,117.62 L517.85,117.41 L518,117.17 L518.15,116.89 L518.3,116.58 L518.45,116.23 L518.6,115.84 L518.75,115.39 L518.9,114.89 L519.05,114.33 L519.2,113.71 L519.35,113.02 L519.5,112.26 L519.65,111.41 L519.8,110.48 L519.95,109.46 L520.1,108.34 L520.25,107.13 L520.4,105.81 L520.55,104.39 L520.7,102.87 L520.85,101.25 L521,99.54 L521.15,97.73 L521.3,95.84 L521.45,93.89 L521.6,91.9 L521.75,89.89 L521.9,87.9 L522.05,85.98 L522.2,84.2 L522.35,82.68 L522.5,81.7 L522.65,82.59 L522.8,84.03 L522.95,85.71 L523.1,87.53 L523.25,89.41 L523.4,91.31 L523.55,93.17 L523.7,94.98 L523.85,96.71 L524,98.33 L524.15,99.85 L524.3,101.24 L524.45,102.5 L524.6,103.63 L524.75,104.62 L524.9,105.46 L525.05,106.17 L525.2,106.72 L525.35,107.14 L525.5,107.4 L525.65,107.52 L525.8,107.5 L525.95,107.33 L526.1,107.01 L526.25,106.55 L526.4,105.95 L526.55,105.2 L526.7,104.31 L526.85,103.27 L527,102.1 L527.15,100.79 L527.3,99.36 L527.45,97.8 L527.6,96.14 L527.75,94.39 L527.9,92.56 L528.05,90.68 L528.2,88.78 L528.35,86.92 L528.5,85.13 L528.65,83.51 L528.8,82.21 L528.95,81.92 L529.1,83.15 L529.25,84.78 L529.4,86.61 L529.55,88.56 L529.7,90.56 L529.85,92.57 L530,94.55 L530.15,96.48 L530.3,98.34 L530.45,100.12 L530.6,101.81 L530.75,103.39 L530.9,104.88 L531.05,106.26 L531.2,107.54 L531.35,108.72 L531.5,109.81 L531.65,110.8 L531.8,111.7 L531.95,112.52 L532.1,113.26 L532.25,113.93 L532.4,114.53 L532.55,115.06 L532.7,115.54 L532.85,115.97 L533,116.35 L533.15,116.69 L533.3,116.99 L533.45,117.25 L533.6,117.48 L533.75,117.69 L533.9,117.86 L534.05,118.02 L534.2,118.15 L534.35,118.27 L534.5,118.38 L534.65,118.46 L534.8,118.54 L534.95,118.61 L535.1,118.67 L535.25,118.72 L535.4,118.76 L535.55,118.79 L535.7,118.83 L535.85,118.85 L536,118.88 L536.15,118.89 L536.3,118.91 L536.45,118.93 L536.6,118.94 L536.75,118.95 L536.9,118.96 L537.05,118.96 L537.2,118.97 L537.35,118.97 L537.5,118.98 L537.65,118.98 L537.8,118.98 L537.8,119 Z" stroke="none" stroke-width="0" fill="#dcebf8" />
<path d="M515.9,118.78 L516.05,118.74 L516.2,118.7 L516.35,118.65 L516.5,118.59 L516.65,118.52 L516.8,118.44 L516.95,118.34 L517.1,118.24 L517.25,118.11 L517.4,117.97 L517.55,117.81 L517.7,117.62 L517.85,117.41 L518,117.17 L518.15,116.89 L518.3,116.58 L518.45,116.23 L518.6,115.84 L518.75,115.39 L518.9,114.89 L519.05,114.33 L519.2,113.71 L519.35,113.02 L519.5,112.26 L519.65,111.41 L519.8,110.48 L519.95,109.46 L520.1,108.34 L520.25,107.13 L520.4,105.81 L520.55,104.39 L520.7,102.87 L520.85,101.25 L521,99.54 L521.15,97.73 L521.3,95.84 L521.45,93.89 L521.6,91.9 L521.75,89.89 L521.9,87.9 L522.05,85.98 L522.2,84.2 L522.35,82.68 L522.5,81.7 L522.65,82.59 L522.8,84.03 L522.95,85.71 L523.1,87.53 L523.25,89.41 L523.4,91.31 L523.55,93.17 L523.7,94.98 L523.85,96.71 L524,98.33 L524.15,99.85 L524.3,101.24 L524.45,102.5 L524.6,103.63 L524.75,104.62 L524.9,105.46 L525.05,106.17 L525.2,106.72 L525.35,107.14 L525.5,107.4 L525.65,107.52 L525.8,107.5 L525.95,107.33 L526.1,107.01 L526.25,106.55 L526.4,105.95 L526.55,105.2 L526.7,104.31 L526.85,103.27 L527,102.1 L527.15,100.79 L527.3,99.36 L527.45,97.8 L527.6,96.14 L527.75,94.39 L527.9,92.56 L528.05,90.68 L528.2,88.78 L528.35,86.92 L528.5,85.13 L528.65,83.51 L528.8,82.21 L528.95,81.92 L529.1,83.15 L529.25,84.78 L529.4,86.61 L529.55,88.56 L529.7,90.56 L529.85,92.57 L530,94.55 L530.15,96.48 L530.3,98.34 L530.45,100.12 L530.6,101.81 L530.75,103.39 L530.9,104.88 L531.05,106.26 L531.2,107.54 L531.35,108.72 L531.5,109.81 L531.65,110.8 L531.8,111.7 L531.95,112.52 L532.1,113.26 L532.25,113.93 L532.4,114.53 L532.55,115.06 L532.7,115.54 L532.85,115.97 L533,116.35 L533.15,116.69 L533.3,116.99 L533.45,117.25 L533.6,117.48 L533.75,117.69 L533.9,117.86 L534.05,118.02 L534.2,118.15 L534.35,118.27 L534.5,118.38 L534.65,118.46 L534.8,118.54 L534.95,118.61 L535.1,118.67 L535.25,118.72 L535.4,118.76" stroke="#4a9ae0" stroke-width="0.8" fill="none" />
<path d="M550.8,119 L550.8,119 L551.04,119 L551.28,119 L551.53,119 L551.77,119 L552.01,118.78 L552.25,118.48 L552.5,118.13 L552.74,117.72 L552.98,117.25 L553.22,116.71 L553.47,116.12 L553.71,115.47 L553.95,114.77 L554.19,114.02 L554.44,113.26 L554.68,112.49 L554.92,111.72 L555.16,110.98 L555.41,110.28 L555.65,109.63 L555.89,109.04 L556.13,108.52 L556.38,108.05 L556.62,107.65 L556.86,107.3 L557.11,107 L557.35,106.8 L557.59,106.8 L557.83,106.8 L558.07,106.8 L558.32,106.8 L558.56,106.8 L558.8,106.8 L559.04,106.8 L559.29,106.8 L559.53,106.8 L559.77,106.8 L560.01,106.8 L560.26,106.8 L560.5,106.8 L560.74,106.8 L560.99,106.8 L561.23,106.8 L561.47,106.8 L561.71,106.8 L561.95,106.8 L562.2,106.8 L562.44,106.8 L562.68,106.8 L562.92,106.8 L563.17,106.8 L563.41,106.8 L563.65,106.8 L563.89,106.8 L564.14,106.8 L564.38,106.8 L564.62,106.8 L564.87,106.8 L565.11,106.8 L565.35,106.8 L565.59,106.8 L565.84,106.8 L566.08,106.8 L566.32,106.8 L566.56,106.8 L566.8,106.8 L567.05,106.8 L567.29,106.8 L567.53,106.8 L567.77,106.8 L568.02,106.8 L568.26,106.8 L568.5,106.8 L568.75,106.8 L568.99,106.8 L569.23,106.8 L569.47,106.8 L569.72,106.8 L569.96,106.8 L570.2,106.8 L570.44,106.8 L570.68,106.8 L570.93,106.8 L571.17,106.8 L571.41,106.8 L571.65,106.8 L571.9,106.8 L572.14,106.8 L572.38,106.8 L572.62,106.8 L572.87,106.8 L573.11,106.8 L573.35,106.8 L573.6,106.8 L573.84,106.8 L574.08,106.8 L574.32,106.8 L574.57,106.8 L574.81,106.8 L575.05,106.8 L575.29,106.8 L575.53,106.8 L575.78,106.8 L576.02,106.8 L576.26,106.8 L576.5,106.8 L576.75,106.8 L576.99,106.8 L577.23,106.8 L577.48,106.8 L577.72,106.8 L577.96,106.8 L578.2,106.8 L578.45,106.8 L578.69,106.8 L578.93,106.8 L579.17,106.8 L579.41,106.8 L579.66,106.8 L579.9,106.8 L580.14,106.8 L580.38,106.8 L580.63,106.8 L580.87,106.8 L581.11,106.8 L581.36,106.8 L581.6,106.8 L581.84,106.8 L582.08,106.8 L582.33,106.8 L582.57,106.8 L582.81,106.8 L583.05,106.85 L583.29,107.11 L583.54,107.42 L583.78,107.78 L584.02,108.2 L584.26,108.68 L584.51,109.22 L584.75,109.81 L584.99,110.46 L585.24,111.16 L585.48,111.9 L585.72,112.65 L585.96,113.41 L586.21,114.16 L586.45,114.88 L586.69,115.56 L586.93,116.2 L587.18,116.77 L587.42,117.29 L587.66,117.75 L587.9,118.15 L588.14,118.49 L588.39,118.78 L588.63,119 L588.87,119 L589.12,119 L589.36,119 L589.6,119 L589.6,119 Z" stroke="none" stroke-width="0" fill="#fde3e6" />
<path d="M552.01,118.78 L552.25,118.48 L552.5,118.13 L552.74,117.72 L552.98,117.25 L553.22,116.71 L553.47,116.12 L553.71,115.47 L553.95,114.77 L554.19,114.02 L554.44,113.26 L554.68,112.49 L554.92,111.72 L555.16,110.98 L555.41,110.28 L555.65,109.63 L555.89,109.04 L556.13,108.52 L556.38,108.05 L556.62,107.65 L556.86,107.3 L557.11,107 L557.35,106.8 L557.59,106.8 L557.83,106.8 L558.07,106.8 L558.32,106.8 L558.56,106.8 L558.8,106.8 L559.04,106.8 L559.29,106.8 L559.53,106.8 L559.77,106.8 L560.01,106.8 L560.26,106.8 L560.5,106.8 L560.74,106.8 L560.99,106.8 L561.23,106.8 L561.47,106.8 L561.71,106.8 L561.95,106.8 L562.2,106.8 L562.44,106.8 L562.68,106.8 L562.92,106.8 L563.17,106.8 L563.41,106.8 L563.65,106.8 L563.89,106.8 L564.14,106.8 L564.38,106.8 L564.62,106.8 L564.87,106.8 L565.11,106.8 L565.35,106.8 L565.59,106.8 L565.84,106.8 L566.08,106.8 L566.32,106.8 L566.56,106.8 L566.8,106.8 L567.05,106.8 L567.29,106.8 L567.53,106.8 L567.77,106.8 L568.02,106.8 L568.26,106.8 L568.5,106.8 L568.75,106.8 L568.99,106.8 L569.23,106.8 L569.47,106.8 L569.72,106.8 L569.96,106.8 L570.2,106.8 L570.44,106.8 L570.68,106.8 L570.93,106.8 L571.17,106.8 L571.41,106.8 L571.65,106.8 L571.9,106.8 L572.14,106.8 L572.38,106.8 L572.62,106.8 L572.87,106.8 L573.11,106.8 L573.35,106.8 L573.6,106.8 L573.84,106.8 L574.08,106.8 L574.32,106.8 L574.57,106.8 L574.81,106.8 L575.05,106.8 L575.29,106.8 L575.53,106.8 L575.78,106.8 L576.02,106.8 L576.26,106.8 L576.5,106.8 L576.75,106.8 L576.99,106.8 L577.23,106.8 L577.48,106.8 L577.72,106.8 L577.96,106.8 L578.2,106.8 L578.45,106.8 L578.69,106.8 L578.93,106.8 L579.17,106.8 L579.41,106.8 L579.66,106.8 L579.9,106.8 L580.14,106.8 L580.38,106.8 L580.63,106.8 L580.87,106.8 L581.11,106.8 L581.36,106.8 L581.6,106.8 L581.84,106.8 L582.08,106.8 L582.33,106.8 L582.57,106.8 L582.81,106.8 L583.05,106.85 L583.29,107.11 L583.54,107.42 L583.78,107.78 L584.02,108.2 L584.26,108.68 L584.51,109.22 L584.75,109.81 L584.99,110.46 L585.24,111.16 L585.48,111.9 L585.72,112.65 L585.96,113.41 L586.21,114.16 L586.45,114.88 L586.69,115.56 L586.93,116.2 L587.18,116.77 L587.42,117.29 L587.66,117.75 L587.9,118.15 L588.14,118.49 L588.39,118.78" stroke="#ee4d5c" stroke-width="0.85" fill="none" />
<path d="M487.2,76.6 L487.2,73.6 L529.6,73.6 L529.6,76.6" stroke="#888" stroke-width="0.7" fill="none" />
<line x1="498" y1="92.3" x2="519.3" y2="92.3" stroke="#444" stroke-width="0.8" />
<path d="M496.4,92.3 L499.4,91 L499.4,93.6 Z M520.9,92.3 L517.9,91 L517.9,93.6 Z" fill="#444"/>
<text x="508.2" y="100.6" font-size="6.8" text-anchor="middle" fill="#444" font-weight="normal" font-style="normal" stroke="#444" stroke-width="0.2" >&#916;<tspan font-style="italic">t</tspan></text>
<line x1="418.5" y1="73" x2="418.5" y2="89.2" stroke="#bdbdbd" stroke-width="0.8" />
<line x1="447" y1="83" x2="447" y2="99.4" stroke="#bdbdbd" stroke-width="0.8" />
<line x1="569.6" y1="74.4" x2="569.6" y2="100.2" stroke="#bdbdbd" stroke-width="0.8" />
<text x="418.4" y="63.4" font-size="6.1" text-anchor="middle" fill="#444" stroke="#444" stroke-width="0.14" textLength="15.28" lengthAdjust="spacingAndGlyphs">Reset</text>
<text x="418.65" y="70.5" font-size="6.1" text-anchor="middle" fill="#444" stroke="#444" stroke-width="0.14" textLength="38.04" lengthAdjust="spacingAndGlyphs">(hole injection)</text>
<text x="447" y="79.4" font-size="6.1" text-anchor="middle" fill="#444" stroke="#444" stroke-width="0.14" textLength="30.57" lengthAdjust="spacingAndGlyphs">Initialization</text>
<text x="508" y="61.6" font-size="6.1" text-anchor="middle" fill="#444" stroke="#444" stroke-width="0.14" textLength="21.79" lengthAdjust="spacingAndGlyphs">Rotation</text>
<text x="508" y="68.9" font-size="6.1" text-anchor="middle" fill="#444" stroke="#444" stroke-width="0.14" textLength="16.91" lengthAdjust="spacingAndGlyphs">pulses</text>
<text x="569.6" y="63.5" font-size="6.1" text-anchor="middle" fill="#444" stroke="#444" stroke-width="0.14" textLength="22.12" lengthAdjust="spacingAndGlyphs">Readout</text>
<text x="569.6" y="70.9" font-size="6.1" text-anchor="middle" fill="#444" stroke="#444" stroke-width="0.14" textLength="13.98" lengthAdjust="spacingAndGlyphs">pulse</text>
<text x="398.7" y="92.6" font-size="8.0" text-anchor="start" fill="#222" font-weight="bold" font-style="normal" stroke="#222" stroke-width="0.2" >d)</text>
<line x1="166.2" y1="119.4" x2="33.4" y2="137.5" stroke="#555" stroke-width="0.75" stroke-dasharray="1.8 0.7"/>
<line x1="202.5" y1="119.3" x2="217.7" y2="137.4" stroke="#555" stroke-width="0.7" />
<line x1="551.5" y1="119" x2="407.8" y2="137.5" stroke="#777" stroke-width="0.7" />
<line x1="588.8" y1="119" x2="600.9" y2="137.4" stroke="#555" stroke-width="0.7" />
<rect x="432.5" y="125.5" width="43" height="8" fill="#fff"/>
<rect x="546.5" y="125.5" width="46.5" height="8" fill="#fff"/>
<text x="453.95" y="132" font-size="6.75" text-anchor="middle" fill="#222" font-weight="normal" font-style="normal" stroke="#222" stroke-width="0.2" >Single pulses</text>
<text x="569.75" y="132" font-size="6.9" text-anchor="middle" fill="#222" font-weight="normal" font-style="normal" stroke="#222" stroke-width="0.2" >Double pulses</text>
<defs><radialGradient id="sga" cx="0.32" cy="0.6" r="0.85" fx="0.3" fy="0.62"><stop offset="0" stop-color="#faf4f4"/><stop offset="0.55" stop-color="#f2eded"/><stop offset="1" stop-color="#e2dede"/></radialGradient></defs>
<circle cx="244.7" cy="51.28" r="42.5" fill="url(#sga)" stroke="#cfc9c9" stroke-width="0.6"/>
<path d="M244.7,13.38 L246.7,13.95 L248.7,14.62 L250.7,15.39 L252.68,16.27 L254.64,17.25 L256.58,18.34 L258.49,19.51 L260.36,20.78 L262.19,22.14 L263.98,23.59 L265.7,25.11 L267.37,26.71 L268.98,28.38 L270.52,30.12 L271.98,31.92 L273.36,33.77 L274.66,35.67 L275.87,37.62 L277,39.6 L278.03,41.61 L278.96,43.65 L279.79,45.7 L280.52,47.77 L281.15,49.84 L281.67,51.91 L282.09,53.98 L282.4,56.03 L282.6,58.06 L282.69,60.06 L282.68,62.04 L282.56,63.97 L282.33,65.87 L282,67.71 L281.57,69.5 L281.03,71.24 L280.4,72.91 L279.66,74.51 L278.84,76.04 L277.92,77.5 L276.92,78.88 L275.83,80.17 L274.66,81.38 L273.42,82.5 L272.1,83.54 L270.71,84.48 L269.26,85.32 L267.75,86.07 L266.18,86.72 L264.56,87.27 L262.89,87.72 L261.18,88.07 L259.44,88.32 L257.66,88.47 L255.85,88.52 L254.02,88.47 L252.18,88.33 L250.32,88.08 L248.45,87.73 L246.57,87.29 L244.7,86.76" stroke="rgba(195,178,178,0.5)" stroke-width="0.55" fill="none" />
<path d="M244.7,13.38 L246.98,13.3 L249.24,13.32 L251.49,13.45 L253.72,13.68 L255.92,14.02 L258.08,14.47 L260.21,15.01 L262.28,15.66 L264.3,16.41 L266.26,17.26 L268.16,18.19 L269.98,19.22 L271.73,20.34 L273.4,21.54 L274.98,22.81 L276.47,24.17 L277.87,25.59 L279.18,27.08 L280.38,28.63 L281.48,30.24 L282.48,31.91 L283.37,33.62 L284.14,35.37 L284.81,37.16 L285.37,38.99 L285.81,40.84 L286.14,42.71 L286.35,44.6 L286.45,46.5 L286.43,48.41 L286.31,50.32 L286.07,52.22 L285.71,54.12 L285.25,56 L284.68,57.86 L284.01,59.7 L283.23,61.52 L282.35,63.3 L281.37,65.04 L280.3,66.74 L279.13,68.39 L277.88,70 L276.53,71.55 L275.11,73.05 L273.61,74.48 L272.03,75.85 L270.39,77.15 L268.67,78.38 L266.9,79.54 L265.07,80.62 L263.19,81.62 L261.26,82.54 L259.28,83.38 L257.27,84.13 L255.23,84.8 L253.16,85.37 L251.06,85.86 L248.95,86.25 L246.83,86.55 L244.7,86.76" stroke="rgba(195,178,178,0.5)" stroke-width="0.55" fill="none" />
<path d="M244.7,13.38 L246.31,12.71 L247.91,12.14 L249.49,11.69 L251.05,11.35 L252.59,11.13 L254.09,11.02 L255.57,11.02 L257,11.14 L258.39,11.36 L259.74,11.69 L261.04,12.13 L262.28,12.68 L263.47,13.33 L264.61,14.08 L265.68,14.92 L266.69,15.86 L267.63,16.9 L268.51,18.02 L269.32,19.22 L270.06,20.5 L270.73,21.86 L271.32,23.29 L271.84,24.79 L272.28,26.35 L272.65,27.98 L272.95,29.65 L273.17,31.38 L273.31,33.16 L273.37,34.97 L273.36,36.82 L273.28,38.7 L273.12,40.61 L272.89,42.55 L272.58,44.5 L272.2,46.46 L271.75,48.43 L271.23,50.41 L270.64,52.39 L269.98,54.35 L269.26,56.31 L268.48,58.26 L267.63,60.18 L266.73,62.09 L265.77,63.96 L264.75,65.8 L263.68,67.6 L262.56,69.37 L261.39,71.09 L260.18,72.75 L258.92,74.37 L257.62,75.93 L256.29,77.42 L254.93,78.85 L253.53,80.22 L252.11,81.51 L250.66,82.72 L249.19,83.86 L247.71,84.91 L246.21,85.88 L244.7,86.76" stroke="rgba(195,178,178,0.5)" stroke-width="0.55" fill="none" />
<path d="M244.7,13.38 L244.98,12.42 L245.27,11.57 L245.54,10.84 L245.82,10.23 L246.09,9.74 L246.35,9.36 L246.61,9.11 L246.86,8.97 L247.1,8.95 L247.34,9.04 L247.56,9.25 L247.78,9.58 L247.98,10.01 L248.18,10.55 L248.37,11.2 L248.54,11.96 L248.7,12.81 L248.85,13.76 L248.99,14.8 L249.12,15.94 L249.23,17.16 L249.34,18.47 L249.43,19.85 L249.5,21.31 L249.57,22.84 L249.62,24.44 L249.65,26.11 L249.68,27.83 L249.69,29.6 L249.69,31.43 L249.67,33.3 L249.65,35.21 L249.61,37.16 L249.55,39.14 L249.49,41.14 L249.41,43.17 L249.32,45.22 L249.22,47.28 L249.11,49.35 L248.98,51.43 L248.85,53.5 L248.7,55.57 L248.55,57.63 L248.38,59.67 L248.2,61.7 L248.02,63.7 L247.83,65.68 L247.62,67.62 L247.41,69.52 L247.19,71.39 L246.97,73.2 L246.74,74.97 L246.5,76.68 L246.25,78.33 L246,79.92 L245.75,81.44 L245.49,82.89 L245.23,84.26 L244.97,85.55 L244.7,86.76" stroke="rgba(195,178,178,0.5)" stroke-width="0.55" fill="none" />
<path d="M244.7,13.38 L243.54,12.55 L242.39,11.84 L241.26,11.23 L240.14,10.75 L239.04,10.38 L237.96,10.13 L236.9,9.99 L235.88,9.96 L234.89,10.06 L233.92,10.26 L233,10.58 L232.11,11 L231.26,11.53 L230.46,12.17 L229.69,12.91 L228.98,13.75 L228.3,14.68 L227.68,15.71 L227.11,16.83 L226.58,18.03 L226.11,19.31 L225.69,20.68 L225.32,22.11 L225.01,23.62 L224.74,25.19 L224.54,26.83 L224.38,28.52 L224.28,30.27 L224.23,32.06 L224.24,33.9 L224.3,35.77 L224.41,37.68 L224.58,39.62 L224.8,41.59 L225.07,43.58 L225.38,45.58 L225.75,47.6 L226.17,49.62 L226.64,51.64 L227.15,53.67 L227.7,55.68 L228.3,57.69 L228.95,59.67 L229.63,61.64 L230.35,63.58 L231.12,65.49 L231.91,67.37 L232.75,69.21 L233.61,71.01 L234.51,72.76 L235.43,74.46 L236.39,76.1 L237.36,77.68 L238.36,79.2 L239.38,80.65 L240.42,82.03 L241.47,83.33 L242.54,84.56 L243.61,85.7 L244.7,86.76" stroke="rgba(195,178,178,0.5)" stroke-width="0.55" fill="none" />
<path d="M244.7,13.38 L242.71,12.93 L240.72,12.59 L238.76,12.35 L236.82,12.23 L234.91,12.22 L233.03,12.31 L231.19,12.52 L229.4,12.83 L227.66,13.25 L225.98,13.77 L224.35,14.4 L222.79,15.12 L221.29,15.94 L219.87,16.86 L218.52,17.86 L217.24,18.95 L216.05,20.13 L214.94,21.39 L213.92,22.72 L212.99,24.12 L212.15,25.59 L211.4,27.12 L210.74,28.72 L210.17,30.36 L209.71,32.06 L209.33,33.8 L209.06,35.58 L208.88,37.4 L208.79,39.24 L208.81,41.11 L208.91,43.01 L209.12,44.92 L209.41,46.84 L209.8,48.76 L210.28,50.69 L210.85,52.61 L211.51,54.53 L212.25,56.44 L213.08,58.32 L213.99,60.19 L214.98,62.03 L216.05,63.84 L217.19,65.61 L218.4,67.34 L219.68,69.04 L221.03,70.68 L222.44,72.27 L223.91,73.81 L225.43,75.29 L227,76.71 L228.62,78.06 L230.29,79.34 L231.99,80.55 L233.73,81.69 L235.51,82.74 L237.31,83.72 L239.13,84.61 L240.98,85.42 L242.83,86.13 L244.7,86.76" stroke="rgba(195,178,178,0.5)" stroke-width="0.55" fill="none" />
<path d="M244.7,13.38 L242.42,13.58 L240.15,13.88 L237.89,14.29 L235.65,14.8 L233.43,15.42 L231.25,16.13 L229.1,16.95 L227,17.87 L224.96,18.87 L222.97,19.97 L221.04,21.16 L219.18,22.43 L217.4,23.78 L215.69,25.21 L214.08,26.7 L212.55,28.27 L211.11,29.89 L209.78,31.57 L208.54,33.31 L207.41,35.09 L206.38,36.91 L205.47,38.76 L204.67,40.65 L203.98,42.55 L203.41,44.48 L202.95,46.42 L202.62,48.37 L202.4,50.32 L202.29,52.26 L202.31,54.2 L202.44,56.12 L202.69,58.02 L203.05,59.89 L203.53,61.74 L204.11,63.55 L204.81,65.32 L205.61,67.05 L206.51,68.72 L207.52,70.35 L208.62,71.91 L209.82,73.42 L211.11,74.86 L212.49,76.23 L213.94,77.53 L215.48,78.75 L217.09,79.9 L218.77,80.97 L220.51,81.95 L222.32,82.86 L224.18,83.67 L226.09,84.39 L228.04,85.03 L230.04,85.57 L232.07,86.03 L234.13,86.38 L236.21,86.65 L238.32,86.82 L240.44,86.89 L242.57,86.87 L244.7,86.76" stroke="rgba(195,178,178,0.5)" stroke-width="0.55" fill="none" />
<path d="M244.7,13.38 L243.08,14.17 L241.46,15.06 L239.84,16.07 L238.24,17.17 L236.64,18.38 L235.06,19.69 L233.5,21.09 L231.97,22.58 L230.48,24.16 L229.02,25.82 L227.6,27.56 L226.23,29.37 L224.92,31.24 L223.65,33.18 L222.45,35.17 L221.31,37.2 L220.24,39.28 L219.24,41.39 L218.31,43.54 L217.46,45.7 L216.69,47.87 L216,50.06 L215.39,52.24 L214.87,54.42 L214.44,56.58 L214.1,58.72 L213.84,60.84 L213.67,62.92 L213.6,64.97 L213.61,66.96 L213.71,68.91 L213.9,70.8 L214.17,72.62 L214.53,74.38 L214.97,76.06 L215.5,77.67 L216.1,79.19 L216.79,80.63 L217.55,81.98 L218.37,83.23 L219.27,84.39 L220.24,85.46 L221.26,86.42 L222.35,87.28 L223.49,88.03 L224.69,88.68 L225.93,89.23 L227.22,89.67 L228.54,90 L229.91,90.22 L231.3,90.34 L232.73,90.35 L234.18,90.26 L235.65,90.06 L237.14,89.76 L238.64,89.35 L240.15,88.85 L241.67,88.25 L243.19,87.55 L244.7,86.76" stroke="rgba(195,178,178,0.5)" stroke-width="0.55" fill="none" />
<path d="M244.7,13.38 L244.41,14.46 L244.13,15.65 L243.84,16.94 L243.55,18.34 L243.27,19.85 L242.99,21.45 L242.71,23.15 L242.44,24.93 L242.17,26.8 L241.91,28.75 L241.65,30.77 L241.4,32.86 L241.17,35 L240.94,37.2 L240.72,39.45 L240.52,41.74 L240.32,44.05 L240.14,46.39 L239.97,48.75 L239.82,51.11 L239.68,53.48 L239.55,55.84 L239.44,58.18 L239.34,60.5 L239.27,62.79 L239.2,65.04 L239.16,67.24 L239.13,69.4 L239.11,71.49 L239.11,73.52 L239.13,75.47 L239.17,77.35 L239.22,79.15 L239.28,80.86 L239.36,82.47 L239.46,83.99 L239.57,85.4 L239.69,86.71 L239.83,87.91 L239.98,89 L240.15,89.98 L240.32,90.84 L240.51,91.59 L240.7,92.21 L240.91,92.72 L241.13,93.11 L241.35,93.39 L241.58,93.54 L241.82,93.58 L242.07,93.5 L242.32,93.31 L242.57,93 L242.83,92.58 L243.09,92.05 L243.36,91.42 L243.63,90.68 L243.89,89.85 L244.16,88.91 L244.43,87.88 L244.7,86.76" stroke="rgba(195,178,178,0.5)" stroke-width="0.55" fill="none" />
<path d="M244.7,13.38 L245.86,14.33 L247.03,15.38 L248.2,16.54 L249.36,17.8 L250.52,19.17 L251.66,20.64 L252.78,22.19 L253.89,23.84 L254.98,25.58 L256.04,27.39 L257.06,29.28 L258.06,31.24 L259.02,33.26 L259.94,35.33 L260.82,37.46 L261.65,39.63 L262.43,41.83 L263.16,44.07 L263.84,46.32 L264.46,48.59 L265.02,50.87 L265.53,53.15 L265.97,55.41 L266.35,57.67 L266.67,59.9 L266.92,62.1 L267.11,64.26 L267.23,66.38 L267.29,68.45 L267.28,70.47 L267.21,72.42 L267.07,74.3 L266.87,76.11 L266.6,77.84 L266.28,79.49 L265.89,81.04 L265.45,82.51 L264.95,83.88 L264.4,85.15 L263.79,86.32 L263.13,87.38 L262.43,88.34 L261.68,89.19 L260.89,89.92 L260.06,90.55 L259.19,91.06 L258.28,91.46 L257.35,91.74 L256.38,91.92 L255.39,91.98 L254.38,91.93 L253.34,91.77 L252.29,91.51 L251.23,91.13 L250.15,90.65 L249.07,90.07 L247.98,89.39 L246.88,88.6 L245.79,87.73 L244.7,86.76" stroke="rgba(195,178,178,0.5)" stroke-width="0.55" fill="none" />
<path d="M268.19,27.54 L269.01,26.76 L269.7,25.96 L270.27,25.14 L270.71,24.31 L271.02,23.47 L271.21,22.62 L271.26,21.77 L271.18,20.92 L270.97,20.08 L270.64,19.25 L270.19,18.44 L269.61,17.64 L268.92,16.86 L268.11,16.11 L267.19,15.39 L266.17,14.7 L265.06,14.05 L263.85,13.43 L262.55,12.85 L261.18,12.32 L259.73,11.83 L258.21,11.38 L256.63,10.99 L255,10.65 L253.33,10.35 L251.61,10.11 L249.87,9.93 L248.1,9.79 L246.32,9.72 L244.53,9.69 L242.75,9.73 L240.97,9.81 L239.21,9.96 L237.47,10.15 L235.76,10.4 L234.09,10.7 L232.47,11.06 L230.91,11.46 L229.4,11.91 L227.96,12.41 L226.6,12.95 L225.32,13.54 L224.13,14.16 L223.03,14.83 L222.03,15.52 L221.13,16.25 L220.35,17 L219.68,17.78 L219.12,18.59 L218.69,19.4 L218.38,20.24 L218.2,21.08 L218.14,21.93 L218.22,22.78 L218.42,23.63 L218.76,24.47 L219.22,25.3 L219.82,26.11 L220.54,26.91 L221.38,27.68 L222.34,28.42 L223.42,29.14 L224.61,29.81 L225.9,30.45 L227.29,31.05 L228.78,31.6 L230.34,32.09 L231.99,32.54 L233.7,32.93 L235.47,33.27 L237.29,33.54 L239.16,33.76 L241.05,33.91 L242.96,34 L244.88,34.02 L246.8,33.99 L248.7,33.89 L250.59,33.72 L252.45,33.5 L254.26,33.21 L256.02,32.86 L257.72,32.46 L259.35,32.01 L260.9,31.5 L262.37,30.94 L263.75,30.34 L265.02,29.69 L266.19,29.01 L267.24,28.29 L268.19,27.54" stroke="rgba(195,178,178,0.5)" stroke-width="0.55" fill="none" />
<path d="M281.67,51.91 L282.91,50.61 L283.96,49.26 L284.8,47.89 L285.43,46.5 L285.87,45.1 L286.09,43.69 L286.11,42.28 L285.94,40.89 L285.56,39.5 L284.99,38.14 L284.23,36.8 L283.28,35.5 L282.16,34.23 L280.87,33.02 L279.41,31.85 L277.8,30.73 L276.05,29.67 L274.16,28.68 L272.14,27.75 L270,26.89 L267.76,26.11 L265.41,25.4 L262.98,24.77 L260.48,24.22 L257.9,23.75 L255.28,23.37 L252.61,23.07 L249.91,22.86 L247.18,22.74 L244.45,22.71 L241.71,22.76 L238.99,22.9 L236.3,23.12 L233.63,23.44 L231.01,23.83 L228.45,24.32 L225.96,24.88 L223.55,25.53 L221.22,26.25 L219,27.05 L216.88,27.92 L214.88,28.86 L213.02,29.86 L211.29,30.93 L209.71,32.06 L208.28,33.24 L207.02,34.47 L205.93,35.74 L205.02,37.05 L204.29,38.39 L203.76,39.76 L203.42,41.14 L203.27,42.54 L203.33,43.95 L203.6,45.36 L204.07,46.76 L204.74,48.15 L205.62,49.51 L206.7,50.85 L207.98,52.15 L209.45,53.41 L211.11,54.61 L212.95,55.76 L214.96,56.85 L217.14,57.86 L219.46,58.79 L221.93,59.65 L224.52,60.41 L227.23,61.08 L230.04,61.66 L232.92,62.13 L235.88,62.5 L238.89,62.76 L241.93,62.91 L244.98,62.96 L248.04,62.89 L251.07,62.72 L254.07,62.44 L257.02,62.05 L259.89,61.56 L262.68,60.97 L265.37,60.28 L267.94,59.5 L270.38,58.63 L272.68,57.68 L274.82,56.65 L276.8,55.55 L278.61,54.39 L280.24,53.18 L281.67,51.91" stroke="rgba(195,178,178,0.5)" stroke-width="0.55" fill="none" />
<path d="M279.26,75.29 L280.43,73.99 L281.42,72.65 L282.21,71.29 L282.82,69.9 L283.23,68.51 L283.45,67.1 L283.48,65.7 L283.32,64.3 L282.98,62.92 L282.45,61.56 L281.75,60.23 L280.87,58.93 L279.83,57.66 L278.62,56.44 L277.27,55.27 L275.76,54.16 L274.12,53.1 L272.35,52.1 L270.46,51.17 L268.46,50.31 L266.35,49.53 L264.15,48.82 L261.87,48.18 L259.52,47.63 L257.11,47.16 L254.64,46.78 L252.13,46.48 L249.59,46.27 L247.03,46.15 L244.46,46.11 L241.89,46.16 L239.34,46.3 L236.8,46.53 L234.3,46.84 L231.84,47.24 L229.44,47.73 L227.1,48.29 L224.83,48.94 L222.65,49.67 L220.57,50.47 L218.58,51.34 L216.71,52.28 L214.96,53.29 L213.35,54.36 L211.87,55.49 L210.54,56.67 L209.37,57.89 L208.35,59.16 L207.51,60.47 L206.84,61.81 L206.34,63.18 L206.03,64.56 L205.91,65.96 L205.98,67.36 L206.23,68.77 L206.68,70.16 L207.32,71.54 L208.15,72.9 L209.17,74.23 L210.37,75.52 L211.76,76.77 L213.31,77.97 L215.04,79.11 L216.92,80.18 L218.96,81.19 L221.13,82.11 L223.44,82.96 L225.86,83.72 L228.39,84.38 L231.01,84.95 L233.71,85.42 L236.47,85.78 L239.28,86.04 L242.11,86.2 L244.96,86.24 L247.81,86.18 L250.65,86 L253.44,85.72 L256.19,85.34 L258.88,84.85 L261.48,84.27 L263.99,83.58 L266.39,82.81 L268.68,81.95 L270.83,81.01 L272.84,79.99 L274.69,78.9 L276.39,77.75 L277.91,76.54 L279.26,75.29" stroke="rgba(195,178,178,0.5)" stroke-width="0.55" fill="none" />
<path d="M262.89,87.72 L263.54,87.01 L264.09,86.29 L264.54,85.54 L264.89,84.78 L265.15,84.01 L265.3,83.23 L265.35,82.46 L265.3,81.68 L265.15,80.91 L264.9,80.14 L264.56,79.39 L264.12,78.66 L263.59,77.95 L262.97,77.25 L262.26,76.59 L261.47,75.95 L260.61,75.34 L259.67,74.77 L258.66,74.24 L257.59,73.74 L256.46,73.29 L255.28,72.88 L254.04,72.51 L252.77,72.19 L251.46,71.92 L250.12,71.7 L248.75,71.52 L247.37,71.4 L245.97,71.33 L244.57,71.31 L243.17,71.34 L241.78,71.42 L240.39,71.55 L239.03,71.73 L237.7,71.97 L236.39,72.25 L235.13,72.58 L233.9,72.95 L232.73,73.37 L231.61,73.83 L230.55,74.33 L229.55,74.88 L228.63,75.45 L227.77,76.07 L227,76.71 L226.31,77.38 L225.71,78.08 L225.19,78.79 L224.77,79.53 L224.44,80.28 L224.21,81.05 L224.08,81.82 L224.05,82.6 L224.12,83.38 L224.29,84.15 L224.57,84.92 L224.94,85.68 L225.41,86.42 L225.98,87.15 L226.64,87.85 L227.39,88.52 L228.23,89.17 L229.16,89.79 L230.17,90.36 L231.25,90.9 L232.4,91.4 L233.61,91.85 L234.89,92.25 L236.21,92.61 L237.58,92.91 L238.99,93.16 L240.42,93.35 L241.88,93.49 L243.36,93.57 L244.84,93.59 L246.32,93.56 L247.79,93.47 L249.25,93.32 L250.68,93.11 L252.08,92.86 L253.44,92.54 L254.75,92.18 L256.02,91.77 L257.22,91.31 L258.36,90.81 L259.43,90.26 L260.42,89.67 L261.33,89.05 L262.15,88.4 L262.89,87.72" stroke="rgba(195,178,178,0.5)" stroke-width="0.55" fill="none" />
<path d="M282.68,62.04 L283.95,60.66 L285.02,59.24 L285.88,57.8 L286.53,56.33 L286.97,54.85 L287.19,53.37 L287.21,51.88 L287.02,50.41 L286.63,48.95 L286.04,47.51 L285.26,46.11 L284.28,44.73 L283.13,43.4 L281.8,42.12 L280.31,40.89 L278.65,39.72 L276.85,38.61 L274.91,37.56 L272.83,36.58 L270.64,35.68 L268.34,34.86 L265.94,34.11 L263.44,33.45 L260.87,32.87 L258.24,32.38 L255.54,31.98 L252.81,31.67 L250.04,31.45 L247.24,31.32 L244.44,31.28 L241.64,31.33 L238.85,31.48 L236.08,31.72 L233.35,32.05 L230.67,32.47 L228.05,32.97 L225.49,33.57 L223.01,34.24 L220.63,35 L218.34,35.84 L216.17,36.76 L214.12,37.75 L212.21,38.81 L210.43,39.93 L208.81,41.11 L207.34,42.36 L206.04,43.65 L204.92,44.99 L203.98,46.36 L203.23,47.78 L202.68,49.22 L202.33,50.68 L202.18,52.16 L202.23,53.64 L202.5,55.13 L202.98,56.6 L203.67,58.07 L204.56,59.51 L205.67,60.91 L206.98,62.29 L208.49,63.61 L210.19,64.89 L212.08,66.1 L214.14,67.24 L216.37,68.31 L218.76,69.3 L221.3,70.2 L223.96,71.01 L226.74,71.72 L229.63,72.32 L232.59,72.82 L235.63,73.21 L238.72,73.49 L241.85,73.65 L244.99,73.7 L248.13,73.63 L251.25,73.45 L254.33,73.15 L257.36,72.74 L260.32,72.22 L263.18,71.59 L265.94,70.87 L268.58,70.04 L271.09,69.12 L273.45,68.12 L275.65,67.04 L277.69,65.88 L279.54,64.65 L281.21,63.37 L282.68,62.04" stroke="#9c9898" stroke-width="0.55" fill="none" />
<path d="M264.7,33.77 L264.7,31.33 L264.6,28.97 L264.41,26.71 L264.13,24.55 L263.75,22.49 L263.28,20.57 L262.72,18.77 L262.07,17.12 L261.34,15.61 L260.51,14.27 L259.61,13.09 L258.62,12.09 L257.56,11.27 L256.43,10.64 L255.24,10.2 L253.98,9.96 L252.66,9.92 L251.29,10.09 L249.88,10.46 L248.43,11.04 L246.96,11.82 L245.46,12.81 L243.94,14 L242.42,15.39 L240.9,16.97 L239.39,18.74 L237.9,20.68 L236.43,22.78 L235,25.05 L233.61,27.46 L232.28,30 L231,32.66 L229.79,35.43 L228.66,38.28 L227.61,41.2 L226.64,44.18 L225.77,47.2 L225,50.24 L224.33,53.28 L223.76,56.31 L223.31,59.3 L222.96,62.24 L222.73,65.12 L222.62,67.92 L222.61,70.62 L222.72,73.2 L222.94,75.67 L223.27,77.99 L223.71,80.16 L224.25,82.18 L224.89,84.02 L225.62,85.69 L226.45,87.17 L227.36,88.46 L228.34,89.56 L229.4,90.46 L230.53,91.16 L231.72,91.66 L232.96,91.96 L234.24,92.06 L235.57,91.96 L236.93,91.66 L238.32,91.18 L239.72,90.5 L241.14,89.65 L242.56,88.62 L243.99,87.42 L245.41,86.06 L246.81,84.55 L248.2,82.88 L249.56,81.08 L250.9,79.16 L252.2,77.11 L253.45,74.95 L254.66,72.69 L255.83,70.34 L256.93,67.91 L257.98,65.4 L258.96,62.84 L259.88,60.23 L260.73,57.58 L261.5,54.9 L262.2,52.2 L262.81,49.5 L263.35,46.8 L263.79,44.12 L264.16,41.47 L264.43,38.85 L264.61,36.28 L264.7,33.77" stroke="#9c9898" stroke-width="0.55" fill="none" />
<line x1="208.81" y1="41.11" x2="282.68" y2="62.04" stroke="#9c9898" stroke-width="0.55" />
<line x1="222.61" y1="70.62" x2="264.7" y2="33.77" stroke="#9c9898" stroke-width="0.55" />
<line x1="244.7" y1="86.76" x2="244.7" y2="13.38" stroke="#9c9898" stroke-width="0.55" />
<circle cx="276" cy="36.6" r="0.95" fill="#a31515"/>
<circle cx="269" cy="44.3" r="0.95" fill="#a31515"/>
<circle cx="265" cy="48.7" r="0.95" fill="#a31515"/>
<circle cx="260.6" cy="53.1" r="0.95" fill="#a31515"/>
<circle cx="256.4" cy="58.6" r="0.95" fill="#a31515"/>
<circle cx="252" cy="64.1" r="0.95" fill="#a31515"/>
<circle cx="248.1" cy="69.1" r="0.95" fill="#a31515"/>
<circle cx="244.8" cy="74" r="0.95" fill="#a31515"/>
<circle cx="241.6" cy="78.7" r="0.95" fill="#a31515"/>
<circle cx="239" cy="83.1" r="0.95" fill="#a31515"/>
<circle cx="237.2" cy="86.6" r="0.95" fill="#a31515"/>
<circle cx="235.8" cy="89.5" r="0.95" fill="#a31515"/>
<circle cx="235.8" cy="92.2" r="0.95" fill="#a31515"/>
<circle cx="237.5" cy="92.5" r="0.95" fill="#a31515"/>
<circle cx="239.5" cy="91.5" r="0.95" fill="#a31515"/>
<circle cx="241.9" cy="89.5" r="0.95" fill="#a31515"/>
<circle cx="244.9" cy="87.0" r="0.9" fill="#b07070"/>
<line x1="245.3" y1="50.6" x2="271.5" y2="38.6" stroke="#e82020" stroke-width="1.3" />
<path d="M275.3,36.9 L269.6,37.2 L271.4,41.0 Z" fill="#e82020"/>
<text x="241.23" y="7.3" font-size="6.8" fill="#444">|0</text>
<path d="M247.07,2.13 L248.57,5.53 L247.07,8.8" stroke="#444" stroke-width="0.6" fill="none"/>
<text x="241.23" y="95.5" font-size="6.8" fill="#444">|1</text>
<path d="M247.07,90.33 L248.57,93.73 L247.07,97" stroke="#444" stroke-width="0.6" fill="none"/>
<text x="217.7" y="77" font-size="6.5" text-anchor="middle" fill="#444" font-weight="normal" font-style="italic" stroke="#444" stroke-width="0.2" >x</text>
<text x="290.3" y="66.4" font-size="6.5" text-anchor="middle" fill="#444" font-weight="normal" font-style="italic" stroke="#444" stroke-width="0.2" >y</text>
<text x="191.4" y="12.6" font-size="9.6" text-anchor="start" fill="#111" font-weight="normal" font-style="normal" stroke="#111" stroke-width="0.05" >a)</text>
<defs><radialGradient id="sgb" cx="0.32" cy="0.6" r="0.85" fx="0.3" fy="0.62"><stop offset="0" stop-color="#faf4f4"/><stop offset="0.55" stop-color="#f2eded"/><stop offset="1" stop-color="#e2dede"/></radialGradient></defs>
<circle cx="349.9" cy="51.28" r="42.5" fill="url(#sgb)" stroke="#cfc9c9" stroke-width="0.6"/>
<path d="M349.9,13.38 L351.9,13.95 L353.9,14.62 L355.9,15.39 L357.88,16.27 L359.84,17.25 L361.78,18.34 L363.69,19.51 L365.56,20.78 L367.39,22.14 L369.18,23.59 L370.9,25.11 L372.57,26.71 L374.18,28.38 L375.72,30.12 L377.18,31.92 L378.56,33.77 L379.86,35.67 L381.07,37.62 L382.2,39.6 L383.23,41.61 L384.16,43.65 L384.99,45.7 L385.72,47.77 L386.35,49.84 L386.87,51.91 L387.29,53.98 L387.6,56.03 L387.8,58.06 L387.89,60.06 L387.88,62.04 L387.76,63.97 L387.53,65.87 L387.2,67.71 L386.77,69.5 L386.23,71.24 L385.6,72.91 L384.86,74.51 L384.04,76.04 L383.12,77.5 L382.12,78.88 L381.03,80.17 L379.86,81.38 L378.62,82.5 L377.3,83.54 L375.91,84.48 L374.46,85.32 L372.95,86.07 L371.38,86.72 L369.76,87.27 L368.09,87.72 L366.38,88.07 L364.64,88.32 L362.86,88.47 L361.05,88.52 L359.22,88.47 L357.38,88.33 L355.52,88.08 L353.65,87.73 L351.77,87.29 L349.9,86.76" stroke="rgba(195,178,178,0.5)" stroke-width="0.55" fill="none" />
<path d="M349.9,13.38 L352.18,13.3 L354.44,13.32 L356.69,13.45 L358.92,13.68 L361.12,14.02 L363.28,14.47 L365.41,15.01 L367.48,15.66 L369.5,16.41 L371.46,17.26 L373.36,18.19 L375.18,19.22 L376.93,20.34 L378.6,21.54 L380.18,22.81 L381.67,24.17 L383.07,25.59 L384.38,27.08 L385.58,28.63 L386.68,30.24 L387.68,31.91 L388.57,33.62 L389.34,35.37 L390.01,37.16 L390.57,38.99 L391.01,40.84 L391.34,42.71 L391.55,44.6 L391.65,46.5 L391.63,48.41 L391.51,50.32 L391.27,52.22 L390.91,54.12 L390.45,56 L389.88,57.86 L389.21,59.7 L388.43,61.52 L387.55,63.3 L386.57,65.04 L385.5,66.74 L384.33,68.39 L383.08,70 L381.73,71.55 L380.31,73.05 L378.81,74.48 L377.23,75.85 L375.59,77.15 L373.87,78.38 L372.1,79.54 L370.27,80.62 L368.39,81.62 L366.46,82.54 L364.48,83.38 L362.47,84.13 L360.43,84.8 L358.36,85.37 L356.26,85.86 L354.15,86.25 L352.03,86.55 L349.9,86.76" stroke="rgba(195,178,178,0.5)" stroke-width="0.55" fill="none" />
<path d="M349.9,13.38 L351.51,12.71 L353.11,12.14 L354.69,11.69 L356.25,11.35 L357.79,11.13 L359.29,11.02 L360.77,11.02 L362.2,11.14 L363.59,11.36 L364.94,11.69 L366.24,12.13 L367.48,12.68 L368.67,13.33 L369.81,14.08 L370.88,14.92 L371.89,15.86 L372.83,16.9 L373.71,18.02 L374.52,19.22 L375.26,20.5 L375.93,21.86 L376.52,23.29 L377.04,24.79 L377.48,26.35 L377.85,27.98 L378.15,29.65 L378.37,31.38 L378.51,33.16 L378.57,34.97 L378.56,36.82 L378.48,38.7 L378.32,40.61 L378.09,42.55 L377.78,44.5 L377.4,46.46 L376.95,48.43 L376.43,50.41 L375.84,52.39 L375.18,54.35 L374.46,56.31 L373.68,58.26 L372.83,60.18 L371.93,62.09 L370.97,63.96 L369.95,65.8 L368.88,67.6 L367.76,69.37 L366.59,71.09 L365.38,72.75 L364.12,74.37 L362.82,75.93 L361.49,77.42 L360.13,78.85 L358.73,80.22 L357.31,81.51 L355.86,82.72 L354.39,83.86 L352.91,84.91 L351.41,85.88 L349.9,86.76" stroke="rgba(195,178,178,0.5)" stroke-width="0.55" fill="none" />
<path d="M349.9,13.38 L350.18,12.42 L350.47,11.57 L350.74,10.84 L351.02,10.23 L351.29,9.74 L351.55,9.36 L351.81,9.11 L352.06,8.97 L352.3,8.95 L352.54,9.04 L352.76,9.25 L352.98,9.58 L353.18,10.01 L353.38,10.55 L353.57,11.2 L353.74,11.96 L353.9,12.81 L354.05,13.76 L354.19,14.8 L354.32,15.94 L354.43,17.16 L354.54,18.47 L354.63,19.85 L354.7,21.31 L354.77,22.84 L354.82,24.44 L354.85,26.11 L354.88,27.83 L354.89,29.6 L354.89,31.43 L354.87,33.3 L354.85,35.21 L354.81,37.16 L354.75,39.14 L354.69,41.14 L354.61,43.17 L354.52,45.22 L354.42,47.28 L354.31,49.35 L354.18,51.43 L354.05,53.5 L353.9,55.57 L353.75,57.63 L353.58,59.67 L353.4,61.7 L353.22,63.7 L353.03,65.68 L352.82,67.62 L352.61,69.52 L352.39,71.39 L352.17,73.2 L351.94,74.97 L351.7,76.68 L351.45,78.33 L351.2,79.92 L350.95,81.44 L350.69,82.89 L350.43,84.26 L350.17,85.55 L349.9,86.76" stroke="rgba(195,178,178,0.5)" stroke-width="0.55" fill="none" />
<path d="M349.9,13.38 L348.74,12.55 L347.59,11.84 L346.46,11.23 L345.34,10.75 L344.24,10.38 L343.16,10.13 L342.1,9.99 L341.08,9.96 L340.09,10.06 L339.12,10.26 L338.2,10.58 L337.31,11 L336.46,11.53 L335.66,12.17 L334.89,12.91 L334.18,13.75 L333.5,14.68 L332.88,15.71 L332.31,16.83 L331.78,18.03 L331.31,19.31 L330.89,20.68 L330.52,22.11 L330.21,23.62 L329.94,25.19 L329.74,26.83 L329.58,28.52 L329.48,30.27 L329.43,32.06 L329.44,33.9 L329.5,35.77 L329.61,37.68 L329.78,39.62 L330,41.59 L330.27,43.58 L330.58,45.58 L330.95,47.6 L331.37,49.62 L331.84,51.64 L332.35,53.67 L332.9,55.68 L333.5,57.69 L334.15,59.67 L334.83,61.64 L335.55,63.58 L336.32,65.49 L337.11,67.37 L337.95,69.21 L338.81,71.01 L339.71,72.76 L340.63,74.46 L341.59,76.1 L342.56,77.68 L343.56,79.2 L344.58,80.65 L345.62,82.03 L346.67,83.33 L347.74,84.56 L348.81,85.7 L349.9,86.76" stroke="rgba(195,178,178,0.5)" stroke-width="0.55" fill="none" />
<path d="M349.9,13.38 L347.91,12.93 L345.92,12.59 L343.96,12.35 L342.02,12.23 L340.11,12.22 L338.23,12.31 L336.39,12.52 L334.6,12.83 L332.86,13.25 L331.18,13.77 L329.55,14.4 L327.99,15.12 L326.49,15.94 L325.07,16.86 L323.72,17.86 L322.44,18.95 L321.25,20.13 L320.14,21.39 L319.12,22.72 L318.19,24.12 L317.35,25.59 L316.6,27.12 L315.94,28.72 L315.37,30.36 L314.91,32.06 L314.53,33.8 L314.26,35.58 L314.08,37.4 L313.99,39.24 L314.01,41.11 L314.11,43.01 L314.32,44.92 L314.61,46.84 L315,48.76 L315.48,50.69 L316.05,52.61 L316.71,54.53 L317.45,56.44 L318.28,58.32 L319.19,60.19 L320.18,62.03 L321.25,63.84 L322.39,65.61 L323.6,67.34 L324.88,69.04 L326.23,70.68 L327.64,72.27 L329.11,73.81 L330.63,75.29 L332.2,76.71 L333.82,78.06 L335.49,79.34 L337.19,80.55 L338.93,81.69 L340.71,82.74 L342.51,83.72 L344.33,84.61 L346.18,85.42 L348.03,86.13 L349.9,86.76" stroke="rgba(195,178,178,0.5)" stroke-width="0.55" fill="none" />
<path d="M349.9,13.38 L347.62,13.58 L345.35,13.88 L343.09,14.29 L340.85,14.8 L338.63,15.42 L336.45,16.13 L334.3,16.95 L332.2,17.87 L330.16,18.87 L328.17,19.97 L326.24,21.16 L324.38,22.43 L322.6,23.78 L320.89,25.21 L319.28,26.7 L317.75,28.27 L316.31,29.89 L314.98,31.57 L313.74,33.31 L312.61,35.09 L311.58,36.91 L310.67,38.76 L309.87,40.65 L309.18,42.55 L308.61,44.48 L308.15,46.42 L307.82,48.37 L307.6,50.32 L307.49,52.26 L307.51,54.2 L307.64,56.12 L307.89,58.02 L308.25,59.89 L308.73,61.74 L309.31,63.55 L310.01,65.32 L310.81,67.05 L311.71,68.72 L312.72,70.35 L313.82,71.91 L315.02,73.42 L316.31,74.86 L317.69,76.23 L319.14,77.53 L320.68,78.75 L322.29,79.9 L323.97,80.97 L325.71,81.95 L327.52,82.86 L329.38,83.67 L331.29,84.39 L333.24,85.03 L335.24,85.57 L337.27,86.03 L339.33,86.38 L341.41,86.65 L343.52,86.82 L345.64,86.89 L347.77,86.87 L349.9,86.76" stroke="rgba(195,178,178,0.5)" stroke-width="0.55" fill="none" />
<path d="M349.9,13.38 L348.28,14.17 L346.66,15.06 L345.04,16.07 L343.44,17.17 L341.84,18.38 L340.26,19.69 L338.7,21.09 L337.17,22.58 L335.68,24.16 L334.22,25.82 L332.8,27.56 L331.43,29.37 L330.12,31.24 L328.85,33.18 L327.65,35.17 L326.51,37.2 L325.44,39.28 L324.44,41.39 L323.51,43.54 L322.66,45.7 L321.89,47.87 L321.2,50.06 L320.59,52.24 L320.07,54.42 L319.64,56.58 L319.3,58.72 L319.04,60.84 L318.87,62.92 L318.8,64.97 L318.81,66.96 L318.91,68.91 L319.1,70.8 L319.37,72.62 L319.73,74.38 L320.17,76.06 L320.7,77.67 L321.3,79.19 L321.99,80.63 L322.75,81.98 L323.57,83.23 L324.47,84.39 L325.44,85.46 L326.46,86.42 L327.55,87.28 L328.69,88.03 L329.89,88.68 L331.13,89.23 L332.42,89.67 L333.74,90 L335.11,90.22 L336.5,90.34 L337.93,90.35 L339.38,90.26 L340.85,90.06 L342.34,89.76 L343.84,89.35 L345.35,88.85 L346.87,88.25 L348.39,87.55 L349.9,86.76" stroke="rgba(195,178,178,0.5)" stroke-width="0.55" fill="none" />
<path d="M349.9,13.38 L349.61,14.46 L349.33,15.65 L349.04,16.94 L348.75,18.34 L348.47,19.85 L348.19,21.45 L347.91,23.15 L347.64,24.93 L347.37,26.8 L347.11,28.75 L346.85,30.77 L346.6,32.86 L346.37,35 L346.14,37.2 L345.92,39.45 L345.72,41.74 L345.52,44.05 L345.34,46.39 L345.17,48.75 L345.02,51.11 L344.88,53.48 L344.75,55.84 L344.64,58.18 L344.54,60.5 L344.47,62.79 L344.4,65.04 L344.36,67.24 L344.33,69.4 L344.31,71.49 L344.31,73.52 L344.33,75.47 L344.37,77.35 L344.42,79.15 L344.48,80.86 L344.56,82.47 L344.66,83.99 L344.77,85.4 L344.89,86.71 L345.03,87.91 L345.18,89 L345.35,89.98 L345.52,90.84 L345.71,91.59 L345.9,92.21 L346.11,92.72 L346.33,93.11 L346.55,93.39 L346.78,93.54 L347.02,93.58 L347.27,93.5 L347.52,93.31 L347.77,93 L348.03,92.58 L348.29,92.05 L348.56,91.42 L348.83,90.68 L349.09,89.85 L349.36,88.91 L349.63,87.88 L349.9,86.76" stroke="rgba(195,178,178,0.5)" stroke-width="0.55" fill="none" />
<path d="M349.9,13.38 L351.06,14.33 L352.23,15.38 L353.4,16.54 L354.56,17.8 L355.72,19.17 L356.86,20.64 L357.98,22.19 L359.09,23.84 L360.18,25.58 L361.24,27.39 L362.26,29.28 L363.26,31.24 L364.22,33.26 L365.14,35.33 L366.02,37.46 L366.85,39.63 L367.63,41.83 L368.36,44.07 L369.04,46.32 L369.66,48.59 L370.22,50.87 L370.73,53.15 L371.17,55.41 L371.55,57.67 L371.87,59.9 L372.12,62.1 L372.31,64.26 L372.43,66.38 L372.49,68.45 L372.48,70.47 L372.41,72.42 L372.27,74.3 L372.07,76.11 L371.8,77.84 L371.48,79.49 L371.09,81.04 L370.65,82.51 L370.15,83.88 L369.6,85.15 L368.99,86.32 L368.33,87.38 L367.63,88.34 L366.88,89.19 L366.09,89.92 L365.26,90.55 L364.39,91.06 L363.48,91.46 L362.55,91.74 L361.58,91.92 L360.59,91.98 L359.58,91.93 L358.54,91.77 L357.49,91.51 L356.43,91.13 L355.35,90.65 L354.27,90.07 L353.18,89.39 L352.08,88.6 L350.99,87.73 L349.9,86.76" stroke="rgba(195,178,178,0.5)" stroke-width="0.55" fill="none" />
<path d="M373.39,27.54 L374.21,26.76 L374.9,25.96 L375.47,25.14 L375.91,24.31 L376.22,23.47 L376.41,22.62 L376.46,21.77 L376.38,20.92 L376.17,20.08 L375.84,19.25 L375.39,18.44 L374.81,17.64 L374.12,16.86 L373.31,16.11 L372.39,15.39 L371.37,14.7 L370.26,14.05 L369.05,13.43 L367.75,12.85 L366.38,12.32 L364.93,11.83 L363.41,11.38 L361.83,10.99 L360.2,10.65 L358.53,10.35 L356.81,10.11 L355.07,9.93 L353.3,9.79 L351.52,9.72 L349.73,9.69 L347.95,9.73 L346.17,9.81 L344.41,9.96 L342.67,10.15 L340.96,10.4 L339.29,10.7 L337.67,11.06 L336.11,11.46 L334.6,11.91 L333.16,12.41 L331.8,12.95 L330.52,13.54 L329.33,14.16 L328.23,14.83 L327.23,15.52 L326.33,16.25 L325.55,17 L324.88,17.78 L324.32,18.59 L323.89,19.4 L323.58,20.24 L323.4,21.08 L323.34,21.93 L323.42,22.78 L323.62,23.63 L323.96,24.47 L324.42,25.3 L325.02,26.11 L325.74,26.91 L326.58,27.68 L327.54,28.42 L328.62,29.14 L329.81,29.81 L331.1,30.45 L332.49,31.05 L333.98,31.6 L335.54,32.09 L337.19,32.54 L338.9,32.93 L340.67,33.27 L342.49,33.54 L344.36,33.76 L346.25,33.91 L348.16,34 L350.08,34.02 L352,33.99 L353.9,33.89 L355.79,33.72 L357.65,33.5 L359.46,33.21 L361.22,32.86 L362.92,32.46 L364.55,32.01 L366.1,31.5 L367.57,30.94 L368.95,30.34 L370.22,29.69 L371.39,29.01 L372.44,28.29 L373.39,27.54" stroke="rgba(195,178,178,0.5)" stroke-width="0.55" fill="none" />
<path d="M386.87,51.91 L388.11,50.61 L389.16,49.26 L390,47.89 L390.63,46.5 L391.07,45.1 L391.29,43.69 L391.31,42.28 L391.14,40.89 L390.76,39.5 L390.19,38.14 L389.43,36.8 L388.48,35.5 L387.36,34.23 L386.07,33.02 L384.61,31.85 L383,30.73 L381.25,29.67 L379.36,28.68 L377.34,27.75 L375.2,26.89 L372.96,26.11 L370.61,25.4 L368.18,24.77 L365.68,24.22 L363.1,23.75 L360.48,23.37 L357.81,23.07 L355.11,22.86 L352.38,22.74 L349.65,22.71 L346.91,22.76 L344.19,22.9 L341.5,23.12 L338.83,23.44 L336.21,23.83 L333.65,24.32 L331.16,24.88 L328.75,25.53 L326.42,26.25 L324.2,27.05 L322.08,27.92 L320.08,28.86 L318.22,29.86 L316.49,30.93 L314.91,32.06 L313.48,33.24 L312.22,34.47 L311.13,35.74 L310.22,37.05 L309.49,38.39 L308.96,39.76 L308.62,41.14 L308.47,42.54 L308.53,43.95 L308.8,45.36 L309.27,46.76 L309.94,48.15 L310.82,49.51 L311.9,50.85 L313.18,52.15 L314.65,53.41 L316.31,54.61 L318.15,55.76 L320.16,56.85 L322.34,57.86 L324.66,58.79 L327.13,59.65 L329.72,60.41 L332.43,61.08 L335.24,61.66 L338.12,62.13 L341.08,62.5 L344.09,62.76 L347.13,62.91 L350.18,62.96 L353.24,62.89 L356.27,62.72 L359.27,62.44 L362.22,62.05 L365.09,61.56 L367.88,60.97 L370.57,60.28 L373.14,59.5 L375.58,58.63 L377.88,57.68 L380.02,56.65 L382,55.55 L383.81,54.39 L385.44,53.18 L386.87,51.91" stroke="rgba(195,178,178,0.5)" stroke-width="0.55" fill="none" />
<path d="M384.46,75.29 L385.63,73.99 L386.62,72.65 L387.41,71.29 L388.02,69.9 L388.43,68.51 L388.65,67.1 L388.68,65.7 L388.52,64.3 L388.18,62.92 L387.65,61.56 L386.95,60.23 L386.07,58.93 L385.03,57.66 L383.82,56.44 L382.47,55.27 L380.96,54.16 L379.32,53.1 L377.55,52.1 L375.66,51.17 L373.66,50.31 L371.55,49.53 L369.35,48.82 L367.07,48.18 L364.72,47.63 L362.31,47.16 L359.84,46.78 L357.33,46.48 L354.79,46.27 L352.23,46.15 L349.66,46.11 L347.09,46.16 L344.54,46.3 L342,46.53 L339.5,46.84 L337.04,47.24 L334.64,47.73 L332.3,48.29 L330.03,48.94 L327.85,49.67 L325.77,50.47 L323.78,51.34 L321.91,52.28 L320.16,53.29 L318.55,54.36 L317.07,55.49 L315.74,56.67 L314.57,57.89 L313.55,59.16 L312.71,60.47 L312.04,61.81 L311.54,63.18 L311.23,64.56 L311.11,65.96 L311.18,67.36 L311.43,68.77 L311.88,70.16 L312.52,71.54 L313.35,72.9 L314.37,74.23 L315.57,75.52 L316.96,76.77 L318.51,77.97 L320.24,79.11 L322.12,80.18 L324.16,81.19 L326.33,82.11 L328.64,82.96 L331.06,83.72 L333.59,84.38 L336.21,84.95 L338.91,85.42 L341.67,85.78 L344.48,86.04 L347.31,86.2 L350.16,86.24 L353.01,86.18 L355.85,86 L358.64,85.72 L361.39,85.34 L364.08,84.85 L366.68,84.27 L369.19,83.58 L371.59,82.81 L373.88,81.95 L376.03,81.01 L378.04,79.99 L379.89,78.9 L381.59,77.75 L383.11,76.54 L384.46,75.29" stroke="rgba(195,178,178,0.5)" stroke-width="0.55" fill="none" />
<path d="M368.09,87.72 L368.74,87.01 L369.29,86.29 L369.74,85.54 L370.09,84.78 L370.35,84.01 L370.5,83.23 L370.55,82.46 L370.5,81.68 L370.35,80.91 L370.1,80.14 L369.76,79.39 L369.32,78.66 L368.79,77.95 L368.17,77.25 L367.46,76.59 L366.67,75.95 L365.81,75.34 L364.87,74.77 L363.86,74.24 L362.79,73.74 L361.66,73.29 L360.48,72.88 L359.24,72.51 L357.97,72.19 L356.66,71.92 L355.32,71.7 L353.95,71.52 L352.57,71.4 L351.17,71.33 L349.77,71.31 L348.37,71.34 L346.98,71.42 L345.59,71.55 L344.23,71.73 L342.9,71.97 L341.59,72.25 L340.33,72.58 L339.1,72.95 L337.93,73.37 L336.81,73.83 L335.75,74.33 L334.75,74.88 L333.83,75.45 L332.97,76.07 L332.2,76.71 L331.51,77.38 L330.91,78.08 L330.39,78.79 L329.97,79.53 L329.64,80.28 L329.41,81.05 L329.28,81.82 L329.25,82.6 L329.32,83.38 L329.49,84.15 L329.77,84.92 L330.14,85.68 L330.61,86.42 L331.18,87.15 L331.84,87.85 L332.59,88.52 L333.43,89.17 L334.36,89.79 L335.37,90.36 L336.45,90.9 L337.6,91.4 L338.81,91.85 L340.09,92.25 L341.41,92.61 L342.78,92.91 L344.19,93.16 L345.62,93.35 L347.08,93.49 L348.56,93.57 L350.04,93.59 L351.52,93.56 L352.99,93.47 L354.45,93.32 L355.88,93.11 L357.28,92.86 L358.64,92.54 L359.95,92.18 L361.22,91.77 L362.42,91.31 L363.56,90.81 L364.63,90.26 L365.62,89.67 L366.53,89.05 L367.35,88.4 L368.09,87.72" stroke="rgba(195,178,178,0.5)" stroke-width="0.55" fill="none" />
<path d="M387.88,62.04 L389.15,60.66 L390.22,59.24 L391.08,57.8 L391.73,56.33 L392.17,54.85 L392.39,53.37 L392.41,51.88 L392.22,50.41 L391.83,48.95 L391.24,47.51 L390.46,46.11 L389.48,44.73 L388.33,43.4 L387,42.12 L385.51,40.89 L383.85,39.72 L382.05,38.61 L380.11,37.56 L378.03,36.58 L375.84,35.68 L373.54,34.86 L371.14,34.11 L368.64,33.45 L366.07,32.87 L363.44,32.38 L360.74,31.98 L358.01,31.67 L355.24,31.45 L352.44,31.32 L349.64,31.28 L346.84,31.33 L344.05,31.48 L341.28,31.72 L338.55,32.05 L335.87,32.47 L333.25,32.97 L330.69,33.57 L328.21,34.24 L325.83,35 L323.54,35.84 L321.37,36.76 L319.32,37.75 L317.41,38.81 L315.63,39.93 L314.01,41.11 L312.54,42.36 L311.24,43.65 L310.12,44.99 L309.18,46.36 L308.43,47.78 L307.88,49.22 L307.53,50.68 L307.38,52.16 L307.43,53.64 L307.7,55.13 L308.18,56.6 L308.87,58.07 L309.76,59.51 L310.87,60.91 L312.18,62.29 L313.69,63.61 L315.39,64.89 L317.28,66.1 L319.34,67.24 L321.57,68.31 L323.96,69.3 L326.5,70.2 L329.16,71.01 L331.94,71.72 L334.83,72.32 L337.79,72.82 L340.83,73.21 L343.92,73.49 L347.05,73.65 L350.19,73.7 L353.33,73.63 L356.45,73.45 L359.53,73.15 L362.56,72.74 L365.52,72.22 L368.38,71.59 L371.14,70.87 L373.78,70.04 L376.29,69.12 L378.65,68.12 L380.85,67.04 L382.89,65.88 L384.74,64.65 L386.41,63.37 L387.88,62.04" stroke="#9c9898" stroke-width="0.55" fill="none" />
<path d="M369.9,33.77 L369.9,31.33 L369.8,28.97 L369.61,26.71 L369.33,24.55 L368.95,22.49 L368.48,20.57 L367.92,18.77 L367.27,17.12 L366.54,15.61 L365.71,14.27 L364.81,13.09 L363.82,12.09 L362.76,11.27 L361.63,10.64 L360.44,10.2 L359.18,9.96 L357.86,9.92 L356.49,10.09 L355.08,10.46 L353.63,11.04 L352.16,11.82 L350.66,12.81 L349.14,14 L347.62,15.39 L346.1,16.97 L344.59,18.74 L343.1,20.68 L341.63,22.78 L340.2,25.05 L338.81,27.46 L337.48,30 L336.2,32.66 L334.99,35.43 L333.86,38.28 L332.81,41.2 L331.84,44.18 L330.97,47.2 L330.2,50.24 L329.53,53.28 L328.96,56.31 L328.51,59.3 L328.16,62.24 L327.93,65.12 L327.82,67.92 L327.81,70.62 L327.92,73.2 L328.14,75.67 L328.47,77.99 L328.91,80.16 L329.45,82.18 L330.09,84.02 L330.82,85.69 L331.65,87.17 L332.56,88.46 L333.54,89.56 L334.6,90.46 L335.73,91.16 L336.92,91.66 L338.16,91.96 L339.44,92.06 L340.77,91.96 L342.13,91.66 L343.52,91.18 L344.92,90.5 L346.34,89.65 L347.76,88.62 L349.19,87.42 L350.61,86.06 L352.01,84.55 L353.4,82.88 L354.76,81.08 L356.1,79.16 L357.4,77.11 L358.65,74.95 L359.86,72.69 L361.03,70.34 L362.13,67.91 L363.18,65.4 L364.16,62.84 L365.08,60.23 L365.93,57.58 L366.7,54.9 L367.4,52.2 L368.01,49.5 L368.55,46.8 L368.99,44.12 L369.36,41.47 L369.63,38.85 L369.81,36.28 L369.9,33.77" stroke="#9c9898" stroke-width="0.55" fill="none" />
<line x1="314.01" y1="41.11" x2="387.88" y2="62.04" stroke="#9c9898" stroke-width="0.55" />
<line x1="327.81" y1="70.62" x2="369.9" y2="33.77" stroke="#9c9898" stroke-width="0.55" />
<line x1="349.9" y1="86.76" x2="349.9" y2="13.38" stroke="#9c9898" stroke-width="0.55" />
<circle cx="387.88" cy="62.04" r="0.95" fill="#a31515"/>
<circle cx="390.1" cy="59.42" r="0.95" fill="#a31515"/>
<circle cx="391.58" cy="56.7" r="0.95" fill="#a31515"/>
<circle cx="392.33" cy="53.92" r="0.95" fill="#a31515"/>
<circle cx="392.34" cy="51.14" r="0.95" fill="#a31515"/>
<circle cx="391.63" cy="48.41" r="0.95" fill="#a31515"/>
<circle cx="390.23" cy="45.76" r="0.95" fill="#a31515"/>
<circle cx="388.17" cy="43.24" r="0.95" fill="#a31515"/>
<circle cx="385.51" cy="40.89" r="0.95" fill="#a31515"/>
<circle cx="382.28" cy="38.74" r="0.95" fill="#a31515"/>
<circle cx="378.56" cy="36.82" r="0.95" fill="#a31515"/>
<circle cx="374.41" cy="35.16" r="0.95" fill="#a31515"/>
<circle cx="369.9" cy="33.77" r="0.95" fill="#a31515"/>
<circle cx="365.09" cy="32.68" r="0.95" fill="#a31515"/>
<circle cx="360.06" cy="31.89" r="0.95" fill="#a31515"/>
<circle cx="354.89" cy="31.43" r="0.95" fill="#a31515"/>
<circle cx="349.64" cy="31.28" r="0.95" fill="#a31515"/>
<circle cx="344.4" cy="31.46" r="0.95" fill="#a31515"/>
<circle cx="339.23" cy="31.96" r="0.95" fill="#a31515"/>
<circle cx="334.22" cy="32.77" r="0.95" fill="#a31515"/>
<circle cx="329.44" cy="33.9" r="0.95" fill="#a31515"/>
<circle cx="324.96" cy="35.31" r="0.95" fill="#a31515"/>
<circle cx="320.85" cy="37" r="0.95" fill="#a31515"/>
<circle cx="317.18" cy="38.94" r="0.95" fill="#a31515"/>
<circle cx="314.01" cy="41.11" r="0.95" fill="#a31515"/>
<circle cx="311.4" cy="43.48" r="0.95" fill="#a31515"/>
<circle cx="309.4" cy="46.02" r="0.95" fill="#a31515"/>
<circle cx="308.06" cy="48.67" r="0.95" fill="#a31515"/>
<circle cx="307.43" cy="51.42" r="0.95" fill="#a31515"/>
<circle cx="307.51" cy="54.2" r="0.95" fill="#a31515"/>
<circle cx="308.33" cy="56.97" r="0.95" fill="#a31515"/>
<circle cx="309.89" cy="59.68" r="0.95" fill="#a31515"/>
<circle cx="312.18" cy="62.29" r="0.95" fill="#a31515"/>
<circle cx="350.19" cy="73.7" r="0.95" fill="#a31515"/>
<circle cx="356.06" cy="73.48" r="0.95" fill="#a31515"/>
<circle cx="361.81" cy="72.85" r="0.95" fill="#a31515"/>
<circle cx="367.32" cy="71.84" r="0.95" fill="#a31515"/>
<circle cx="372.48" cy="70.47" r="0.95" fill="#a31515"/>
<circle cx="377.19" cy="68.76" r="0.95" fill="#a31515"/>
<circle cx="381.38" cy="66.75" r="0.95" fill="#a31515"/>
<circle cx="384.96" cy="64.5" r="0.95" fill="#a31515"/>
<circle cx="350" cy="13.2" r="0.95" fill="#a31515"/>
<circle cx="346.4" cy="16.4" r="0.95" fill="#a31515"/>
<circle cx="341.8" cy="20.6" r="0.95" fill="#a31515"/>
<circle cx="337.6" cy="25.5" r="0.95" fill="#a31515"/>
<circle cx="333" cy="30.6" r="0.95" fill="#a31515"/>
<circle cx="328.4" cy="35.8" r="0.95" fill="#a31515"/>
<circle cx="324" cy="42.3" r="0.95" fill="#a31515"/>
<circle cx="320.3" cy="48" r="0.95" fill="#a31515"/>
<circle cx="317.2" cy="53.5" r="0.95" fill="#a31515"/>
<circle cx="313.8" cy="58.5" r="0.95" fill="#a31515"/>
<circle cx="346.4" cy="79.2" r="0.95" fill="#a31515"/>
<circle cx="343.6" cy="83.8" r="0.95" fill="#a31515"/>
<circle cx="341.9" cy="87.4" r="0.95" fill="#a31515"/>
<circle cx="340.5" cy="91.1" r="0.95" fill="#a31515"/>
<circle cx="341.5" cy="92.4" r="0.95" fill="#a31515"/>
<circle cx="343.9" cy="91.8" r="0.95" fill="#a31515"/>
<circle cx="346.6" cy="89.7" r="0.95" fill="#a31515"/>
<circle cx="349.7" cy="86.8" r="0.95" fill="#a31515"/>
<circle cx="340.2" cy="92.3" r="0.95" fill="#a31515"/>
<line x1="350.2" y1="50.5" x2="350.2" y2="18.5" stroke="#ee6a6a" stroke-width="1.2" />
<path d="M350.2,14.8 L348.2,19.6 L352.2,19.6 Z" fill="#ee3030"/>
<text x="346.23" y="7.3" font-size="6.8" fill="#444">|0</text>
<path d="M352.07,2.13 L353.57,5.53 L352.07,8.8" stroke="#444" stroke-width="0.6" fill="none"/>
<text x="346.23" y="95.5" font-size="6.8" fill="#444">|1</text>
<path d="M352.07,90.33 L353.57,93.73 L352.07,97" stroke="#444" stroke-width="0.6" fill="none"/>
<text x="322.6" y="77" font-size="6.5" text-anchor="middle" fill="#444" font-weight="normal" font-style="italic" stroke="#444" stroke-width="0.2" >x</text>
<text x="395.2" y="66" font-size="6.5" text-anchor="middle" fill="#444" font-weight="normal" font-style="italic" stroke="#444" stroke-width="0.2" >y</text>
<text x="299.4" y="12" font-size="9.2" text-anchor="start" fill="#111" font-weight="normal" font-style="normal" stroke="#111" stroke-width="0.05" >b)</text>
<rect x="33.4" y="137.4" width="184.3" height="135.7" fill="none" stroke="#505050" stroke-width="0.9"/>
<line x1="30.2" y1="273.1" x2="33.4" y2="273.1" stroke="#505050" stroke-width="0.7" />
<text x="28.4" y="275.1" font-size="5.7" text-anchor="end" fill="#222" font-weight="normal" font-style="normal" stroke="#222" stroke-width="0.2" >0</text>
<line x1="31.7" y1="256.14" x2="33.4" y2="256.14" stroke="#505050" stroke-width="0.7" />
<line x1="30.2" y1="239.18" x2="33.4" y2="239.18" stroke="#505050" stroke-width="0.7" />
<text x="28.4" y="241.18" font-size="5.7" text-anchor="end" fill="#222" font-weight="normal" font-style="normal" stroke="#222" stroke-width="0.2" >250</text>
<line x1="31.7" y1="222.21" x2="33.4" y2="222.21" stroke="#505050" stroke-width="0.7" />
<line x1="30.2" y1="205.25" x2="33.4" y2="205.25" stroke="#505050" stroke-width="0.7" />
<text x="28.4" y="207.25" font-size="5.7" text-anchor="end" fill="#222" font-weight="normal" font-style="normal" stroke="#222" stroke-width="0.2" >500</text>
<line x1="31.7" y1="188.29" x2="33.4" y2="188.29" stroke="#505050" stroke-width="0.7" />
<line x1="30.2" y1="171.32" x2="33.4" y2="171.32" stroke="#505050" stroke-width="0.7" />
<text x="28.4" y="173.32" font-size="5.7" text-anchor="end" fill="#222" font-weight="normal" font-style="normal" stroke="#222" stroke-width="0.2" >750</text>
<line x1="31.7" y1="154.36" x2="33.4" y2="154.36" stroke="#505050" stroke-width="0.7" />
<line x1="30.2" y1="137.4" x2="33.4" y2="137.4" stroke="#505050" stroke-width="0.7" />
<text x="28.4" y="139.4" font-size="5.7" text-anchor="end" fill="#222" font-weight="normal" font-style="normal" stroke="#222" stroke-width="0.2" >1000</text>
<line x1="33.4" y1="273.1" x2="33.4" y2="275.5" stroke="#505050" stroke-width="0.7" />
<text x="33.4" y="282.4" font-size="5.7" text-anchor="middle" fill="#222" font-weight="normal" font-style="normal" stroke="#222" stroke-width="0.2" >0</text>
<line x1="51.83" y1="273.1" x2="51.83" y2="274.5" stroke="#505050" stroke-width="0.7" />
<line x1="70.26" y1="273.1" x2="70.26" y2="275.5" stroke="#505050" stroke-width="0.7" />
<text x="70.26" y="282.4" font-size="5.7" text-anchor="middle" fill="#222" font-weight="normal" font-style="normal" stroke="#222" stroke-width="0.2" >200</text>
<line x1="88.69" y1="273.1" x2="88.69" y2="274.5" stroke="#505050" stroke-width="0.7" />
<line x1="107.12" y1="273.1" x2="107.12" y2="275.5" stroke="#505050" stroke-width="0.7" />
<text x="107.12" y="282.4" font-size="5.7" text-anchor="middle" fill="#222" font-weight="normal" font-style="normal" stroke="#222" stroke-width="0.2" >400</text>
<line x1="125.55" y1="273.1" x2="125.55" y2="274.5" stroke="#505050" stroke-width="0.7" />
<line x1="143.98" y1="273.1" x2="143.98" y2="275.5" stroke="#505050" stroke-width="0.7" />
<text x="143.98" y="282.4" font-size="5.7" text-anchor="middle" fill="#222" font-weight="normal" font-style="normal" stroke="#222" stroke-width="0.2" >600</text>
<line x1="162.41" y1="273.1" x2="162.41" y2="274.5" stroke="#505050" stroke-width="0.7" />
<line x1="180.84" y1="273.1" x2="180.84" y2="275.5" stroke="#505050" stroke-width="0.7" />
<text x="180.84" y="282.4" font-size="5.7" text-anchor="middle" fill="#222" font-weight="normal" font-style="normal" stroke="#222" stroke-width="0.2" >800</text>
<line x1="199.27" y1="273.1" x2="199.27" y2="274.5" stroke="#505050" stroke-width="0.7" />
<line x1="217.7" y1="273.1" x2="217.7" y2="275.5" stroke="#505050" stroke-width="0.7" />
<text x="217.7" y="282.4" font-size="5.7" text-anchor="middle" fill="#222" font-weight="normal" font-style="normal" stroke="#222" stroke-width="0.2" >1000</text>
<text x="37.7" y="147.7" font-size="8.7" text-anchor="start" fill="#111" font-weight="normal" font-style="normal" stroke="#111" stroke-width="0.3" >9 T</text>
<text transform="translate(6.0,201) rotate(-90)" font-size="7.3" text-anchor="middle" fill="#222" stroke="#222" stroke-width="0.2">Average counts per bin [s<tspan font-size="4.2" dy="-2.6">-1</tspan><tspan dy="2.6">]</tspan></text>
<text x="125.5" y="294.1" font-size="7" text-anchor="middle" fill="#222" stroke="#222" stroke-width="0.2">(Pulse Power)<tspan font-size="4.2" dy="-2.8"> 1/2</tspan><tspan dy="2.8"> [nW</tspan><tspan font-size="4.2" dy="-2.8">1/2</tspan><tspan dy="2.8">]</tspan></text>
<path d="M37,231.77h2.9M38.45,230.32v2.9M37.71,231.8h2.9M39.16,230.35v2.9M37.63,232.17h2.9M39.08,230.72v2.9M37.7,232.33h2.9M39.15,230.88v2.9M38.57,232.88h2.9M40.02,231.43v2.9M38.45,232.41h2.9M39.9,230.96v2.9M38.84,232.97h2.9M40.29,231.52v2.9M39.81,231.82h2.9M41.26,230.37v2.9M40.47,232.57h2.9M41.92,231.12v2.9M40.5,231.69h2.9M41.95,230.24v2.9M40.37,230.44h2.9M41.82,228.99v2.9M41.11,229.93h2.9M42.56,228.48v2.9M41.14,229.59h2.9M42.59,228.14v2.9M41.35,229.24h2.9M42.8,227.79v2.9M42.15,228.99h2.9M43.6,227.54v2.9M42.61,228.01h2.9M44.06,226.56v2.9M42.97,227.32h2.9M44.42,225.87v2.9M43.28,226.22h2.9M44.73,224.77v2.9M44.15,226.59h2.9M45.6,225.14v2.9M44.28,225.89h2.9M45.73,224.44v2.9M44.01,225.02h2.9M45.46,223.57v2.9M44.21,224.63h2.9M45.66,223.18v2.9M44.92,224.91h2.9M46.37,223.46v2.9M45.24,224.88h2.9M46.69,223.43v2.9M45.61,225.52h2.9M47.06,224.07v2.9M44.93,225.03h2.9M46.38,223.58v2.9M46.14,225.83h2.9M47.59,224.38v2.9M46.52,226.33h2.9M47.97,224.88v2.9M45.92,227.18h2.9M47.37,225.73v2.9M46.93,227.2h2.9M48.38,225.75v2.9M46.54,227.5h2.9M47.99,226.05v2.9M47.7,228.01h2.9M49.15,226.56v2.9M47.12,227.26h2.9M48.57,225.81v2.9M47.38,226.78h2.9M48.83,225.33v2.9M48.35,226.57h2.9M49.8,225.12v2.9" stroke="#111" stroke-width="0.75" fill="none"/>
<path d="M48.29,226.69h2.8M49.69,225.29v2.8M48.45,226.23h2.8M49.85,224.83v2.8M48.91,225.2h2.8M50.31,223.8v2.8M49.43,223.83h2.8M50.83,222.43v2.8M50.07,222.37h2.8M51.47,220.97v2.8M51.28,221.5h2.8M52.68,220.1v2.8M51.39,220.01h2.8M52.79,218.61v2.8M51.99,217.77h2.8M53.39,216.37v2.8M53.2,216.28h2.8M54.6,214.88v2.8M53.28,215.09h2.8M54.68,213.69v2.8M54.02,213.13h2.8M55.42,211.73v2.8M55.11,212.16h2.8M56.51,210.76v2.8M55.37,210.9h2.8M56.77,209.5v2.8M55.87,210.28h2.8M57.27,208.88v2.8" stroke="#2a2a2a" stroke-width="0.65" fill="none"/>
<path d="M57.32,207.69h3.2M58.92,206.09v3.2M58.82,204.65h3.2M60.42,203.05v3.2M60.32,201.36h3.2M61.92,199.76v3.2M61.14,198.47h3.2M62.74,196.87v3.2M61.94,194.95h3.2M63.54,193.35v3.2M63.55,193.32h3.2M65.15,191.72v3.2M64.73,191.18h3.2M66.33,189.58v3.2M66.74,190.84h3.2M68.34,189.24v3.2M68.07,189.7h3.2M69.67,188.1v3.2M70.13,188.7h3.2M71.73,187.1v3.2M71.5,188.7h3.2M73.1,187.1v3.2M72.92,190.46h3.2M74.52,188.86v3.2M74.69,190.84h3.2M76.29,189.24v3.2M76.35,191.82h3.2M77.95,190.22v3.2M78.21,192.9h3.2M79.81,191.3v3.2M79.61,195.02h3.2M81.21,193.42v3.2M81.21,195.49h3.2M82.81,193.89v3.2M83.04,197.35h3.2M84.64,195.75v3.2M84.19,199.36h3.2M85.79,197.76v3.2M85.45,202.2h3.2M87.05,200.6v3.2M86.3,204.81h3.2M87.9,203.21v3.2M88.07,207.06h3.2M89.67,205.46v3.2M89.42,209.99h3.2M91.02,208.39v3.2M91.24,212.03h3.2M92.84,210.43v3.2M92.9,214.27h3.2M94.5,212.67v3.2M94.99,214.76h3.2M96.59,213.16v3.2M96.21,214.43h3.2M97.81,212.83v3.2M97.08,213.04h3.2M98.68,211.44v3.2M98.17,212.59h3.2M99.77,210.99v3.2M99.42,211.46h3.2M101.02,209.86v3.2" stroke="#4a4a4a" stroke-width="0.5" fill="none"/>
<path d="M101.3,207.3h3.4M103,205.6v3.4M104.4,203.3h3.4M106.1,201.6v3.4M106.8,197.3h3.4M108.5,195.6v3.4M108.3,191.2h3.4M110,189.5v3.4M110.5,188.2h3.4M112.2,186.5v3.4M112,184.5h3.4M113.7,182.8v3.4M114.1,180h3.4M115.8,178.3v3.4M115.9,176h3.4M117.6,174.3v3.4M118,173.3h3.4M119.7,171.6v3.4M120.2,173.3h3.4M121.9,171.6v3.4M122.6,173.9h3.4M124.3,172.2v3.4M125,176.3h3.4M126.7,174.6v3.4M127.5,177.5h3.4M129.2,175.8v3.4M129.9,182.1h3.4M131.6,180.4v3.4M132.3,186.6h3.4M134,184.9v3.4M134.8,191.2h3.4M136.5,189.5v3.4M137.2,201.2h3.4M138.9,199.5v3.4M140.2,205.5h3.4M141.9,203.8v3.4M142.6,205.8h3.4M144.3,204.1v3.4M145.4,201.8h3.4M147.1,200.1v3.4M147.8,197.3h3.4M149.5,195.6v3.4M150.5,189.7h3.4M152.2,188v3.4M153,184.2h3.4M154.7,182.5v3.4M156,173.9h3.4M157.7,172.2v3.4M159.1,164.8h3.4M160.8,163.1v3.4M162.1,161.7h3.4M163.8,160v3.4M165.1,158.1h3.4M166.8,156.4v3.4M168.2,157.8h3.4M169.9,156.1v3.4M171.2,161.4h3.4M172.9,159.7v3.4M174.8,166.3h3.4M176.5,164.6v3.4M178.2,170.8h3.4M179.9,169.1v3.4M181.2,174.5h3.4M182.9,172.8v3.4M184.9,179h3.4M186.6,177.3v3.4M188.5,178.1h3.4M190.2,176.4v3.4M192.2,175.4h3.4M193.9,173.7v3.4M195.5,168.4h3.4M197.2,166.7v3.4M200.1,156.9h3.4M201.8,155.2v3.4M203.7,148.7h3.4M205.4,147v3.4M207.7,140.5h3.4M209.4,138.8v3.4M211.9,141.7h3.4M213.6,140v3.4" stroke="#505050" stroke-width="0.5" fill="none"/>
<rect x="255.8" y="137.5" width="110.5" height="136" fill="none" stroke="#505050" stroke-width="0.9"/>
<line x1="252.8" y1="273.5" x2="255.8" y2="273.5" stroke="#505050" stroke-width="0.7" />
<text x="251.4" y="275.5" font-size="5.7" text-anchor="end" fill="#222" font-weight="normal" font-style="normal" stroke="#222" stroke-width="0.2" >0</text>
<line x1="254.3" y1="259.9" x2="255.8" y2="259.9" stroke="#505050" stroke-width="0.7" />
<line x1="252.8" y1="246.3" x2="255.8" y2="246.3" stroke="#505050" stroke-width="0.7" />
<text x="251.4" y="248.3" font-size="5.7" text-anchor="end" fill="#222" font-weight="normal" font-style="normal" stroke="#222" stroke-width="0.2" >100</text>
<line x1="254.3" y1="232.7" x2="255.8" y2="232.7" stroke="#505050" stroke-width="0.7" />
<line x1="252.8" y1="219.1" x2="255.8" y2="219.1" stroke="#505050" stroke-width="0.7" />
<text x="251.4" y="221.1" font-size="5.7" text-anchor="end" fill="#222" font-weight="normal" font-style="normal" stroke="#222" stroke-width="0.2" >200</text>
<line x1="254.3" y1="205.5" x2="255.8" y2="205.5" stroke="#505050" stroke-width="0.7" />
<line x1="252.8" y1="191.9" x2="255.8" y2="191.9" stroke="#505050" stroke-width="0.7" />
<text x="251.4" y="193.9" font-size="5.7" text-anchor="end" fill="#222" font-weight="normal" font-style="normal" stroke="#222" stroke-width="0.2" >300</text>
<line x1="254.3" y1="178.3" x2="255.8" y2="178.3" stroke="#505050" stroke-width="0.7" />
<line x1="252.8" y1="164.7" x2="255.8" y2="164.7" stroke="#505050" stroke-width="0.7" />
<text x="251.4" y="166.7" font-size="5.7" text-anchor="end" fill="#222" font-weight="normal" font-style="normal" stroke="#222" stroke-width="0.2" >400</text>
<line x1="254.3" y1="151.1" x2="255.8" y2="151.1" stroke="#505050" stroke-width="0.7" />
<line x1="252.8" y1="137.5" x2="255.8" y2="137.5" stroke="#505050" stroke-width="0.7" />
<text x="251.4" y="139.5" font-size="5.7" text-anchor="end" fill="#222" font-weight="normal" font-style="normal" stroke="#222" stroke-width="0.2" >500</text>
<line x1="268" y1="273.5" x2="268" y2="275.9" stroke="#505050" stroke-width="0.7" />
<text x="268" y="283.4" font-size="5.7" text-anchor="middle" fill="#222" font-weight="normal" font-style="normal" stroke="#222" stroke-width="0.2" >10</text>
<line x1="283.25" y1="273.5" x2="283.25" y2="274.9" stroke="#505050" stroke-width="0.7" />
<line x1="298.5" y1="273.5" x2="298.5" y2="275.9" stroke="#505050" stroke-width="0.7" />
<text x="298.5" y="283.4" font-size="5.7" text-anchor="middle" fill="#222" font-weight="normal" font-style="normal" stroke="#222" stroke-width="0.2" >15</text>
<line x1="312.2" y1="273.5" x2="312.2" y2="275.9" stroke="#505050" stroke-width="0.7" />
<text x="312.2" y="283.4" font-size="5.7" text-anchor="middle" fill="#222" font-weight="normal" font-style="normal" stroke="#222" stroke-width="0.2" >20</text>
<line x1="327.45" y1="273.5" x2="327.45" y2="274.9" stroke="#505050" stroke-width="0.7" />
<line x1="342.7" y1="273.5" x2="342.7" y2="275.9" stroke="#505050" stroke-width="0.7" />
<text x="342.7" y="283.4" font-size="5.7" text-anchor="middle" fill="#222" font-weight="normal" font-style="normal" stroke="#222" stroke-width="0.2" >25</text>
<line x1="357.95" y1="273.5" x2="357.95" y2="274.9" stroke="#505050" stroke-width="0.7" />
<line x1="309.2" y1="140.5" x2="311.6" y2="134.6" stroke="#333" stroke-width="0.75" />
<line x1="311.6" y1="140.5" x2="314" y2="134.6" stroke="#333" stroke-width="0.75" />
<line x1="309.2" y1="276.5" x2="311.6" y2="270.6" stroke="#333" stroke-width="0.75" />
<line x1="311.6" y1="276.5" x2="314" y2="270.6" stroke="#333" stroke-width="0.75" />
<path d="M255.8,269.71 L256.4,270.92 L257,270.85 L257.6,270.1 L258.2,270.55 L258.8,270.54 L259.4,270.93 L260,271.21 L260.6,269.78 L261.2,267.46 L261.8,268.26 L262.4,232.4 L263,200.61 L263.6,167.96 L264.2,161.69 L264.8,167.55 L265.4,173.97 L266,182.48 L266.6,188.94 L267.2,192.75 L267.8,197.5 L268.4,203.38 L269,208.63 L269.6,210.35 L270.2,212.92 L270.8,216.69 L271.4,218.05 L272,221.8 L272.6,225.49 L273.2,228.06 L273.8,229.12 L274.4,231.38 L275,233.6 L275.6,236.1 L276.2,231.67 L276.8,236.42 L277.4,242 L278,236.01 L278.6,238.35 L279.2,242.3 L279.8,244.03 L280.4,248.03 L281,244.85 L281.6,247.03 L282.2,250.26 L282.8,251.2 L283.4,253.21 L284,250.71 L284.6,253.64 L285.2,253.22 L285.8,251.55 L286.4,253.77 L287,256.07 L287.6,256.38 L288.2,251.5 L288.8,251.3 L289.4,252.62 L290,254.23 L290.6,258 L291.2,255.97 L291.8,254.8 L292.4,257.48 L293,258.79 L293.6,258.94 L294.2,257.3 L294.8,257.96 L295.4,258.64 L296,260.6 L296.6,259.22 L297.2,258.66 L297.8,259.52 L298.4,256.83 L299,257.16 L299.6,261.64 L300.2,263.8 L300.8,261.87 L301.4,261.15 L302,260.27 L302.6,263.01 L303.2,268.22 L303.8,269.35 L304.4,270.56 L305,271.49 L305.6,270.9 L306.2,271.62 L306.8,272.32 L307.4,271.72 L308,271.53 L308.6,271.23 L309.2,271.68 L309.8,272.33 L310.4,270.81" stroke="#2d7fba" stroke-width="0.9" fill="none" stroke-linejoin="round"/>
<path d="M312.3,273.33 L312.9,273.32 L313.5,271.89 L314.1,271.94 L314.7,273.14 L315.3,272.98 L315.9,272.87 L316.5,272.29 L317.1,272.77 L317.7,272.77 L318.3,272.73 L318.9,272.05 L319.5,271.17 L320.1,266.59 L320.7,251.61 L321.3,229.01 L321.9,207.76 L322.5,188.85 L323.1,179.34 L323.7,178.91 L324.3,183.35 L324.9,188.71 L325.5,195.55 L326.1,200.87 L326.7,205.69 L327.3,211.94 L327.9,213.88 L328.5,216.68 L329.1,218.03 L329.7,219.61 L330.3,223.3 L330.9,224.87 L331.5,228.99 L332.1,233.77 L332.7,234.04 L333.3,233.08 L333.9,238.13 L334.5,239.14 L335.1,240.32 L335.7,242.73 L336.3,243.47 L336.9,244.89 L337.5,243.72 L338.1,248.43 L338.7,249.57 L339.3,246.23 L339.9,250.86 L340.5,251.78 L341.1,251.01 L341.7,252.14 L342.3,252.61 L342.9,255.95 L343.5,254.11 L344.1,256.85 L344.7,254.65 L345.3,258.63 L345.9,259.15 L346.5,256.68 L347.1,257.6 L347.7,260.06 L348.3,259.09 L348.9,257.85 L349.5,256.44 L350.1,257.34 L350.7,259.96 L351.3,256.83 L351.9,261.8 L352.5,257.98 L353.1,262.42 L353.7,258.91 L354.3,263.42 L354.9,262.16 L355.5,261.2 L356.1,261.64 L356.7,262.85 L357.3,262.79 L357.9,261.33 L358.5,260.99 L359.1,263.33 L359.7,266.47 L360.3,265.02 L360.9,261.97 L361.5,267.55 L362.1,267.52 L362.7,269.36 L363.3,268.14 L363.9,271.05 L364.5,271.67 L365.1,273.44 L365.7,272.84" stroke="#2d7fba" stroke-width="0.9" fill="none" stroke-linejoin="round"/>
<path d="M255.8,269.88 L256.4,270.43 L257,270.22 L257.6,270.66 L258.2,270.76 L258.8,269.92 L259.4,269.9 L260,271.29 L260.6,269.98 L261.2,265.93 L261.8,254.36 L262.4,209.43 L263,177.3 L263.6,166.93 L264.2,168.93 L264.8,173.18 L265.4,179.67 L266,185.9 L266.6,190.39 L267.2,196 L267.8,200.18 L268.4,202.26 L269,208.62 L269.6,212.17 L270.2,214.45 L270.8,216.34 L271.4,222.8 L272,224.17 L272.6,228.1 L273.2,231.3 L273.8,232.99 L274.4,236.46 L275,236.27 L275.6,239.54 L276.2,238.88 L276.8,242.66 L277.4,243.57 L278,240.54 L278.6,241.91 L279.2,243.46 L279.8,248.63 L280.4,246.65 L281,248.72 L281.6,247.84 L282.2,250.02 L282.8,250.3 L283.4,250.72 L284,252.58 L284.6,253.03 L285.2,255.42 L285.8,254.55 L286.4,256.51 L287,256.54 L287.6,257.84 L288.2,256.35 L288.8,253.58 L289.4,258.23 L290,259.23 L290.6,259.22 L291.2,257.49 L291.8,258.74 L292.4,255.94 L293,260.19 L293.6,258.9 L294.2,257.32 L294.8,256.15 L295.4,261.41 L296,262.52 L296.6,257.01 L297.2,261.8 L297.8,259.55 L298.4,258.12 L299,259.27 L299.6,262.57 L300.2,263.58 L300.8,258.72 L301.4,262.93 L302,259.71 L302.6,264.64 L303.2,264.27 L303.8,268.61 L304.4,271.77 L305,271.31 L305.6,272.4 L306.2,271.5 L306.8,271.12 L307.4,271.96 L308,271.05 L308.6,271.32 L309.2,271.65 L309.8,271.98 L310.4,271.25" stroke="#1e1e1e" stroke-width="0.9" fill="none" stroke-linejoin="round"/>
<path d="M312.3,272.38 L312.9,272.17 L313.5,272.63 L314.1,272.25 L314.7,272.11 L315.3,272.64 L315.9,273.47 L316.5,273.28 L317.1,273.22 L317.7,272.36 L318.3,272.86 L318.9,272.44 L319.5,270.92 L320.1,264.68 L320.7,256.2 L321.3,248.4 L321.9,238.4 L322.5,231.64 L323.1,231.97 L323.7,230.78 L324.3,232.9 L324.9,236.05 L325.5,238.41 L326.1,241.11 L326.7,243.33 L327.3,241.08 L327.9,245.97 L328.5,247.81 L329.1,247.75 L329.7,246.74 L330.3,249.32 L330.9,247.95 L331.5,253.8 L332.1,254.28 L332.7,252.95 L333.3,251.87 L333.9,255.94 L334.5,254.32 L335.1,256.61 L335.7,256.81 L336.3,255.14 L336.9,254.96 L337.5,256.51 L338.1,255.87 L338.7,254.59 L339.3,255.87 L339.9,259.44 L340.5,255.01 L341.1,255.41 L341.7,259.46 L342.3,257.66 L342.9,259.67 L343.5,259.66 L344.1,252.98 L344.7,263.78 L345.3,258.84 L345.9,260.47 L346.5,259.34 L347.1,262.36 L347.7,260.27 L348.3,261.02 L348.9,263.79 L349.5,261.24 L350.1,263.03 L350.7,265.53 L351.3,260.48 L351.9,260.44 L352.5,261.77 L353.1,265.49 L353.7,264.67 L354.3,262.34 L354.9,263.13 L355.5,255.61 L356.1,264.31 L356.7,261.71 L357.3,266.24 L357.9,267.74 L358.5,268.31 L359.1,267.01 L359.7,268.69 L360.3,262.97 L360.9,265.41 L361.5,270.64 L362.1,268.52 L362.7,268.56 L363.3,270.93 L363.9,271.94 L364.5,273.32 L365.1,272.97 L365.7,272.81" stroke="#1e1e1e" stroke-width="0.9" fill="none" stroke-linejoin="round"/>
<text x="259.5" y="146.8" font-size="8.6" text-anchor="start" fill="#111" font-weight="normal" font-style="normal" stroke="#111" stroke-width="0.12" >e)</text>
<text x="351" y="147.6" font-size="8.6" text-anchor="start" fill="#111" font-weight="normal" font-style="normal" stroke="#111" stroke-width="0.3" >6 T</text>
<text x="291" y="174" font-size="6.4" text-anchor="middle" fill="#222" font-weight="normal" font-style="normal" stroke="#222" stroke-width="0.2" >Initialisation</text>
<text x="346.9" y="173.7" font-size="6.5" text-anchor="middle" fill="#222" font-weight="normal" font-style="normal" stroke="#222" stroke-width="0.2" >Readout</text>
<text x="334.2" y="214.4" font-size="6.6" text-anchor="start" fill="#2d7fba" font-weight="normal" font-style="normal" stroke="#2d7fba" stroke-width="0.2" ><tspan font-family="Liberation Serif" font-style="italic" font-size="7.6">&#960;</tspan><tspan font-family="Liberation Serif" font-size="7.4">/2</tspan> - max</text>
<text x="334.5" y="234.8" font-size="6.6" text-anchor="start" fill="#222" font-weight="normal" font-style="normal" stroke="#222" stroke-width="0.2" ><tspan font-family="Liberation Serif" font-style="italic" font-size="7.6">&#960;</tspan><tspan font-family="Liberation Serif" font-size="7.4">/2</tspan> - min</text>
<text transform="translate(233.8,203.4) rotate(-90)" font-size="7" text-anchor="middle" fill="#222" stroke="#222" stroke-width="0.2">Counts [s<tspan font-size="4.2" dy="-2.6">-1</tspan><tspan dy="2.6">]</tspan></text>
<text x="310.9" y="293.8" font-size="7.0" text-anchor="middle" fill="#333" font-weight="normal" font-style="normal" stroke="#333" stroke-width="0.2" >Time Delay [ns]</text>
<rect x="407.6" y="137.5" width="193.3" height="63.1" fill="none" stroke="#505050" stroke-width="0.9"/>
<line x1="404.6" y1="200.6" x2="407.6" y2="200.6" stroke="#505050" stroke-width="0.7" />
<text x="403.3" y="202.6" font-size="5.7" text-anchor="end" fill="#222" font-weight="normal" font-style="normal" stroke="#222" stroke-width="0.2" >0</text>
<line x1="406.1" y1="190.08" x2="407.6" y2="190.08" stroke="#505050" stroke-width="0.7" />
<line x1="404.6" y1="179.57" x2="407.6" y2="179.57" stroke="#505050" stroke-width="0.7" />
<text x="403.3" y="181.57" font-size="5.7" text-anchor="end" fill="#222" font-weight="normal" font-style="normal" stroke="#222" stroke-width="0.2" >150</text>
<line x1="406.1" y1="169.05" x2="407.6" y2="169.05" stroke="#505050" stroke-width="0.7" />
<line x1="404.6" y1="158.53" x2="407.6" y2="158.53" stroke="#505050" stroke-width="0.7" />
<text x="403.3" y="160.53" font-size="5.7" text-anchor="end" fill="#222" font-weight="normal" font-style="normal" stroke="#222" stroke-width="0.2" >300</text>
<line x1="406.1" y1="148.02" x2="407.6" y2="148.02" stroke="#505050" stroke-width="0.7" />
<line x1="404.6" y1="137.5" x2="407.6" y2="137.5" stroke="#505050" stroke-width="0.7" />
<text x="403.3" y="139.5" font-size="5.7" text-anchor="end" fill="#222" font-weight="normal" font-style="normal" stroke="#222" stroke-width="0.2" >450</text>
<line x1="424.2" y1="200.6" x2="424.2" y2="203" stroke="#505050" stroke-width="0.7" />
<line x1="444.32" y1="200.6" x2="444.32" y2="202" stroke="#505050" stroke-width="0.7" />
<line x1="464.45" y1="200.6" x2="464.45" y2="203" stroke="#505050" stroke-width="0.7" />
<line x1="484.57" y1="200.6" x2="484.57" y2="202" stroke="#505050" stroke-width="0.7" />
<line x1="504.7" y1="200.6" x2="504.7" y2="203" stroke="#505050" stroke-width="0.7" />
<line x1="524.83" y1="200.6" x2="524.83" y2="202" stroke="#505050" stroke-width="0.7" />
<line x1="544.95" y1="200.6" x2="544.95" y2="203" stroke="#505050" stroke-width="0.7" />
<line x1="565.08" y1="200.6" x2="565.08" y2="202" stroke="#505050" stroke-width="0.7" />
<line x1="585.2" y1="200.6" x2="585.2" y2="203" stroke="#505050" stroke-width="0.7" />
<rect x="407.6" y="210.2" width="193.3" height="63.2" fill="none" stroke="#505050" stroke-width="0.9"/>
<line x1="404.6" y1="273.4" x2="407.6" y2="273.4" stroke="#505050" stroke-width="0.7" />
<text x="403.3" y="275.4" font-size="5.7" text-anchor="end" fill="#222" font-weight="normal" font-style="normal" stroke="#222" stroke-width="0.2" >0</text>
<line x1="406.1" y1="262.87" x2="407.6" y2="262.87" stroke="#505050" stroke-width="0.7" />
<line x1="404.6" y1="252.33" x2="407.6" y2="252.33" stroke="#505050" stroke-width="0.7" />
<text x="403.3" y="254.33" font-size="5.7" text-anchor="end" fill="#222" font-weight="normal" font-style="normal" stroke="#222" stroke-width="0.2" >150</text>
<line x1="406.1" y1="241.8" x2="407.6" y2="241.8" stroke="#505050" stroke-width="0.7" />
<line x1="404.6" y1="231.27" x2="407.6" y2="231.27" stroke="#505050" stroke-width="0.7" />
<text x="403.3" y="233.27" font-size="5.7" text-anchor="end" fill="#222" font-weight="normal" font-style="normal" stroke="#222" stroke-width="0.2" >300</text>
<line x1="406.1" y1="220.73" x2="407.6" y2="220.73" stroke="#505050" stroke-width="0.7" />
<line x1="404.6" y1="210.2" x2="407.6" y2="210.2" stroke="#505050" stroke-width="0.7" />
<text x="403.3" y="212.2" font-size="5.7" text-anchor="end" fill="#222" font-weight="normal" font-style="normal" stroke="#222" stroke-width="0.2" >450</text>
<line x1="424.2" y1="273.4" x2="424.2" y2="275.8" stroke="#505050" stroke-width="0.7" />
<text x="424.2" y="281.6" font-size="5.7" text-anchor="middle" fill="#222" font-weight="normal" font-style="normal" stroke="#222" stroke-width="0.2" >100</text>
<line x1="444.32" y1="273.4" x2="444.32" y2="274.8" stroke="#505050" stroke-width="0.7" />
<line x1="464.45" y1="273.4" x2="464.45" y2="275.8" stroke="#505050" stroke-width="0.7" />
<text x="464.45" y="281.6" font-size="5.7" text-anchor="middle" fill="#222" font-weight="normal" font-style="normal" stroke="#222" stroke-width="0.2" >150</text>
<line x1="484.57" y1="273.4" x2="484.57" y2="274.8" stroke="#505050" stroke-width="0.7" />
<line x1="504.7" y1="273.4" x2="504.7" y2="275.8" stroke="#505050" stroke-width="0.7" />
<text x="504.7" y="281.6" font-size="5.7" text-anchor="middle" fill="#222" font-weight="normal" font-style="normal" stroke="#222" stroke-width="0.2" >200</text>
<line x1="524.83" y1="273.4" x2="524.83" y2="274.8" stroke="#505050" stroke-width="0.7" />
<line x1="544.95" y1="273.4" x2="544.95" y2="275.8" stroke="#505050" stroke-width="0.7" />
<text x="544.95" y="281.6" font-size="5.7" text-anchor="middle" fill="#222" font-weight="normal" font-style="normal" stroke="#222" stroke-width="0.2" >250</text>
<line x1="565.08" y1="273.4" x2="565.08" y2="274.8" stroke="#505050" stroke-width="0.7" />
<line x1="585.2" y1="273.4" x2="585.2" y2="275.8" stroke="#505050" stroke-width="0.7" />
<text x="585.2" y="281.6" font-size="5.7" text-anchor="middle" fill="#222" font-weight="normal" font-style="normal" stroke="#222" stroke-width="0.2" >300</text>
<line x1="424.2" y1="210.2" x2="424.2" y2="207.8" stroke="#505050" stroke-width="0.7" />
<line x1="444.32" y1="210.2" x2="444.32" y2="208.8" stroke="#505050" stroke-width="0.7" />
<line x1="464.45" y1="210.2" x2="464.45" y2="207.8" stroke="#505050" stroke-width="0.7" />
<line x1="484.57" y1="210.2" x2="484.57" y2="208.8" stroke="#505050" stroke-width="0.7" />
<line x1="504.7" y1="210.2" x2="504.7" y2="207.8" stroke="#505050" stroke-width="0.7" />
<line x1="524.83" y1="210.2" x2="524.83" y2="208.8" stroke="#505050" stroke-width="0.7" />
<line x1="544.95" y1="210.2" x2="544.95" y2="207.8" stroke="#505050" stroke-width="0.7" />
<line x1="565.08" y1="210.2" x2="565.08" y2="208.8" stroke="#505050" stroke-width="0.7" />
<line x1="585.2" y1="210.2" x2="585.2" y2="207.8" stroke="#505050" stroke-width="0.7" />
<path d="M418,172.87 L418.32,174.94 L418.65,176.93 L418.98,178.8 L419.3,180.52 L419.62,182.06 L419.95,183.41 L420.27,184.53 L420.6,185.41 L420.93,186.04 L421.25,186.4 L421.57,186.5 L421.9,186.32 L422.23,185.87 L422.55,185.17 L422.88,184.21 L423.2,183.02 L423.52,181.61 L423.85,180.01 L424.18,178.24 L424.5,176.33 L424.82,174.31 L425.15,172.22 L425.48,170.08 L425.8,167.93 L426.12,165.81 L426.45,163.75 L426.77,161.77 L427.1,159.93 L427.43,158.23 L427.75,156.72 L428.07,155.41 L428.4,154.32 L428.73,153.48 L429.05,152.89 L429.38,152.57 L429.7,152.51 L430.02,152.73 L430.35,153.22 L430.68,153.97 L431,154.96 L431.32,156.19 L431.65,157.63 L431.98,159.26 L432.3,161.05 L432.62,162.98 L432.95,165.01 L433.27,167.11 L433.6,169.25 L433.93,171.4 L434.25,173.51 L434.57,175.56 L434.9,177.52 L435.23,179.34 L435.55,181.01 L435.88,182.5 L436.2,183.78 L436.52,184.83 L436.85,185.63 L437.18,186.18 L437.5,186.46 L437.82,186.47 L438.15,186.21 L438.48,185.68 L438.8,184.9 L439.12,183.87 L439.45,182.61 L439.77,181.13 L440.1,179.48 L440.43,177.66 L440.75,175.72 L441.07,173.67 L441.4,171.56 L441.73,169.42 L442.05,167.27 L442.38,165.17 L442.7,163.13 L443.02,161.19 L443.35,159.39 L443.68,157.75 L444,156.29 L444.32,155.05 L444.65,154.03 L444.98,153.27 L445.3,152.76 L445.62,152.52 L445.95,152.55 L446.27,152.85 L446.6,153.42 L446.93,154.25 L447.25,155.31 L447.57,156.61 L447.9,158.11 L448.23,159.79 L448.55,161.63 L448.88,163.59 L449.2,165.65 L449.52,167.77 L449.85,169.91 L450.18,172.05 L450.5,174.15 L450.82,176.18 L451.15,178.1 L451.48,179.88 L451.8,181.49 L452.12,182.92 L452.45,184.13 L452.77,185.1 L453.1,185.83 L453.43,186.29 L453.75,186.49 L454.07,186.42 L454.4,186.08 L454.73,185.47 L455.05,184.61 L455.38,183.5 L455.7,182.17 L456.02,180.64 L456.35,178.94 L456.68,177.08 L457,175.1 L457.32,173.03 L457.65,170.9 L457.98,168.76 L458.3,166.62 L458.62,164.53 L458.95,162.52 L459.27,160.62 L459.6,158.86 L459.93,157.28 L460.25,155.88 L460.57,154.71 L460.9,153.77 L461.23,153.08 L461.55,152.66 L461.88,152.5 L462.2,152.62 L462.52,153 L462.85,153.65 L463.18,154.55 L463.5,155.69 L463.82,157.05 L464.15,158.61 L464.48,160.34 L464.8,162.22 L465.12,164.22 L465.45,166.3 L465.77,168.43 L466.1,170.57 L466.43,172.7 L466.75,174.78 L467.07,176.78 L467.4,178.66 L467.73,180.39 L468.05,181.95 L468.38,183.31 L468.7,184.45 L469.02,185.35 L469.35,186 L469.68,186.38 L470,186.5 L470.32,186.34 L470.65,185.92 L470.98,185.23 L471.3,184.29 L471.62,183.12 L471.95,181.72 L472.27,180.14 L472.6,178.38 L472.93,176.48 L473.25,174.47 L473.57,172.38 L473.9,170.24 L474.23,168.1 L474.55,165.97 L474.88,163.9 L475.2,161.92 L475.52,160.06 L475.85,158.36 L476.18,156.83 L476.5,155.5 L476.82,154.39 L477.15,153.53 L477.48,152.92 L477.8,152.58 L478.12,152.51 L478.45,152.71 L478.77,153.17 L479.1,153.9 L479.43,154.87 L479.75,156.08 L480.07,157.51 L480.4,159.12 L480.73,160.9 L481.05,162.82 L481.38,164.85 L481.7,166.95 L482.02,169.09 L482.35,171.23 L482.68,173.35 L483,175.41" stroke="#f02828" stroke-width="1.5" fill="none" stroke-linejoin="round"/>
<path d="M547.6,180.2 L547.87,179.15 L548.13,178.02 L548.4,176.81 L548.67,175.55 L548.93,174.23 L549.2,172.87 L549.47,171.5 L549.73,170.12 L550,168.75 L550.26,167.41 L550.53,166.1 L550.8,164.85 L551.06,163.66 L551.33,162.55 L551.6,161.54 L551.86,160.62 L552.13,159.82 L552.4,159.13 L552.66,158.57 L552.93,158.15 L553.2,157.86 L553.46,157.72 L553.73,157.72 L554,157.86 L554.26,158.14 L554.53,158.56 L554.8,159.11 L555.06,159.79 L555.33,160.6 L555.6,161.51 L555.86,162.52 L556.13,163.63 L556.39,164.82 L556.66,166.07 L556.93,167.37 L557.19,168.72 L557.46,170.08 L557.73,171.46 L557.99,172.84 L558.26,174.19 L558.53,175.51 L558.79,176.78 L559.06,177.99 L559.33,179.12 L559.59,180.17 L559.86,181.12 L560.13,181.96 L560.39,182.68 L560.66,183.27 L560.92,183.74 L561.19,184.07 L561.46,184.25 L561.72,184.3 L561.99,184.2 L562.26,183.96 L562.52,183.58 L562.79,183.07 L563.06,182.42 L563.32,181.66 L563.59,180.78 L563.86,179.79 L564.12,178.71 L564.39,177.55 L564.66,176.31 L564.92,175.02 L565.19,173.69 L565.46,172.33 L565.72,170.95 L565.99,169.57 L566.25,168.21 L566.52,166.88 L566.79,165.6 L567.05,164.37 L567.32,163.21 L567.59,162.14 L567.85,161.16 L568.12,160.28 L568.39,159.53 L568.65,158.89 L568.92,158.39 L569.19,158.02 L569.45,157.79 L569.72,157.7 L569.99,157.76 L570.25,157.95 L570.52,158.29 L570.79,158.76 L571.05,159.37 L571.32,160.1 L571.59,160.95 L571.85,161.9 L572.12,162.96 L572.38,164.1 L572.65,165.31 L572.92,166.58 L573.18,167.91 L573.45,169.26 L573.72,170.64 L573.98,172.01 L574.25,173.38 L574.52,174.72 L574.78,176.02 L575.05,177.27 L575.32,178.45 L575.58,179.55 L575.85,180.56 L576.12,181.47 L576.38,182.26 L576.65,182.93 L576.91,183.48 L577.18,183.89 L577.45,184.16 L577.71,184.29 L577.98,184.28 L578.25,184.12 L578.51,183.83 L578.78,183.39 L579.05,182.83 L579.31,182.13 L579.58,181.32 L579.85,180.39 L580.11,179.37 L580.38,178.25 L580.65,177.06 L580.91,175.8 L581.18,174.5 L581.45,173.15 L581.71,171.78 L581.98,170.4 L582.25,169.03 L582.51,167.68 L582.78,166.36 L583.04,165.1 L583.31,163.9 L583.58,162.77 L583.84,161.73 L584.11,160.8 L584.38,159.97 L584.64,159.26 L584.91,158.67 L585.18,158.22 L585.44,157.91 L585.71,157.74 L585.98,157.71 L586.24,157.82 L586.51,158.07 L586.78,158.46 L587.04,158.99 L587.31,159.65 L587.58,160.43 L587.84,161.32 L588.11,162.31 L588.37,163.4 L588.64,164.57 L588.91,165.81 L589.17,167.11 L589.44,168.44 L589.71,169.81 L589.97,171.19 L590.24,172.56 L590.51,173.92 L590.77,175.25 L591.04,176.53 L591.31,177.75 L591.57,178.9 L591.84,179.97 L592.11,180.93 L592.37,181.8 L592.64,182.54 L592.9,183.16 L593.17,183.66 L593.44,184.01 L593.7,184.23 L593.97,184.3 L594.24,184.23 L594.5,184.02 L594.77,183.67 L595.04,183.18 L595.3,182.56 L595.57,181.82 L595.84,180.96 L596.1,180 L596.37,178.93 L596.64,177.79 L596.9,176.57 L597.17,175.29 L597.44,173.96 L597.7,172.6 L597.97,171.23 L598.24,169.85 L598.5,168.48 L598.77,167.15 L599.03,165.85 L599.3,164.61 L599.57,163.44 L599.83,162.34 L600.1,161.35 L600.37,160.45 L600.63,159.67 L600.9,159.01" stroke="#f02828" stroke-width="1.5" fill="none" stroke-linejoin="round"/>
<path d="M418,235.91 L418.32,237.42 L418.65,239 L418.98,240.63 L419.3,242.27 L419.62,243.9 L419.95,245.5 L420.27,247.04 L420.6,248.49 L420.93,249.83 L421.25,251.05 L421.57,252.11 L421.9,253.01 L422.23,253.73 L422.55,254.25 L422.88,254.58 L423.2,254.7 L423.52,254.61 L423.85,254.32 L424.18,253.82 L424.5,253.13 L424.82,252.26 L425.15,251.22 L425.48,250.03 L425.8,248.7 L426.12,247.27 L426.45,245.74 L426.77,244.15 L427.1,242.52 L427.43,240.88 L427.75,239.25 L428.07,237.66 L428.4,236.13 L428.73,234.7 L429.05,233.37 L429.38,232.18 L429.7,231.14 L430.02,230.27 L430.35,229.58 L430.68,229.08 L431,228.79 L431.32,228.7 L431.65,228.82 L431.98,229.15 L432.3,229.67 L432.62,230.39 L432.95,231.29 L433.27,232.35 L433.6,233.57 L433.93,234.91 L434.25,236.36 L434.57,237.9 L434.9,239.5 L435.23,241.13 L435.55,242.77 L435.88,244.4 L436.2,245.98 L436.52,247.49 L436.85,248.92 L437.18,250.22 L437.5,251.39 L437.82,252.41 L438.15,253.25 L438.48,253.91 L438.8,254.38 L439.12,254.64 L439.45,254.69 L439.77,254.54 L440.1,254.19 L440.43,253.63 L440.75,252.88 L441.07,251.96 L441.4,250.87 L441.73,249.63 L442.05,248.27 L442.38,246.81 L442.7,245.26 L443.02,243.65 L443.35,242.02 L443.68,240.37 L444,238.75 L444.32,237.18 L444.65,235.68 L444.98,234.28 L445.3,232.99 L445.62,231.84 L445.95,230.85 L446.27,230.03 L446.6,229.4 L446.93,228.97 L447.25,228.74 L447.57,228.72 L447.9,228.9 L448.23,229.29 L448.55,229.87 L448.88,230.65 L449.2,231.6 L449.52,232.71 L449.85,233.97 L450.18,235.35 L450.5,236.83 L450.82,238.39 L451.15,240 L451.48,241.64 L451.8,243.28 L452.12,244.89 L452.45,246.46 L452.77,247.94 L453.1,249.33 L453.43,250.6 L453.75,251.72 L454.07,252.69 L454.4,253.47 L454.73,254.08 L455.05,254.48 L455.38,254.68 L455.7,254.67 L456.02,254.45 L456.35,254.04 L456.68,253.42 L457,252.62 L457.32,251.64 L457.65,250.5 L457.98,249.23 L458.3,247.83 L458.62,246.34 L458.95,244.77 L459.27,243.15 L459.6,241.51 L459.93,239.87 L460.25,238.26 L460.57,236.71 L460.9,235.24 L461.23,233.87 L461.55,232.62 L461.88,231.52 L462.2,230.58 L462.52,229.82 L462.85,229.25 L463.18,228.88 L463.5,228.71 L463.82,228.75 L464.15,229 L464.48,229.45 L464.8,230.09 L465.12,230.92 L465.45,231.92 L465.77,233.08 L466.1,234.38 L466.43,235.79 L466.75,237.3 L467.07,238.88 L467.4,240.5 L467.73,242.14 L468.05,243.78 L468.38,245.38 L468.7,246.92 L469.02,248.38 L469.35,249.73 L469.68,250.96 L470,252.04 L470.32,252.95 L470.65,253.68 L470.98,254.22 L471.3,254.56 L471.62,254.7 L471.95,254.63 L472.27,254.35 L472.6,253.87 L472.93,253.19 L473.25,252.33 L473.57,251.31 L473.9,250.13 L474.23,248.81 L474.55,247.38 L474.88,245.86 L475.2,244.27 L475.52,242.65 L475.85,241 L476.18,239.37 L476.5,237.78 L476.82,236.25 L477.15,234.8 L477.48,233.47 L477.8,232.27 L478.12,231.21 L478.45,230.33 L478.77,229.62 L479.1,229.11 L479.43,228.8 L479.75,228.7 L480.07,228.8 L480.4,229.11 L480.73,229.62 L481.05,230.33 L481.38,231.21 L481.7,232.27 L482.02,233.47 L482.35,234.8 L482.68,236.25 L483,237.78" stroke="#f02828" stroke-width="1.5" fill="none" stroke-linejoin="round"/>
<path d="M546.5,237.9 L600.9,238.2" stroke="#f02828" stroke-width="1.5" fill="none" />
<path d="M417.02,176.8h3.1M418.57,175.25v3.1M419.13,186.58h3.1M420.68,185.03v3.1M421.09,186.64h3.1M422.64,185.09v3.1M422.67,176.22h3.1M424.22,174.67v3.1M425.22,163.91h3.1M426.77,162.36v3.1M427.19,152.8h3.1M428.74,151.25v3.1M428.93,152.72h3.1M430.48,151.17v3.1M430.98,162.46h3.1M432.53,160.91v3.1M432.66,174.19h3.1M434.21,172.64v3.1M434.82,186.09h3.1M436.37,184.54v3.1M437.11,184.54h3.1M438.66,182.99v3.1M439.13,176.07h3.1M440.68,174.52v3.1M441.02,163.18h3.1M442.57,161.63v3.1M442.65,155.66h3.1M444.2,154.11v3.1M444.78,152.31h3.1M446.33,150.76v3.1M447.24,162.53h3.1M448.79,160.98v3.1M448.82,175.63h3.1M450.37,174.08v3.1M450.97,184.86h3.1M452.52,183.31v3.1M452.77,187.33h3.1M454.32,185.78v3.1M455.06,179.59h3.1M456.61,178.04v3.1M457.19,164.68h3.1M458.74,163.13v3.1M458.87,153.89h3.1M460.42,152.34v3.1M460.74,151.57h3.1M462.29,150.02v3.1M462.83,160.81h3.1M464.38,159.26v3.1M464.65,173.76h3.1M466.2,172.21v3.1M466.85,183.17h3.1M468.4,181.62v3.1M469.14,186.09h3.1M470.69,184.54v3.1M470.84,178.88h3.1M472.39,177.33v3.1M473.07,164.88h3.1M474.62,163.33v3.1M475.24,153.97h3.1M476.79,152.42v3.1M477.1,153.86h3.1M478.65,152.31v3.1M478.66,160.58h3.1M480.21,159.03v3.1M480.87,172.47h3.1M482.42,170.92v3.1M460.85,140.5h3.1M462.4,138.95v3.1M463.35,143.2h3.1M464.9,141.65v3.1M479.25,147h3.1M480.8,145.45v3.1M481.35,184.5h3.1M482.9,182.95v3.1M469.65,190.8h3.1M471.2,189.25v3.1M475.05,189.3h3.1M476.6,187.75v3.1M463.95,180.5h3.1M465.5,178.95v3.1M459.95,168h3.1M461.5,166.45v3.1M461.95,167.5h3.1M463.5,165.95v3.1M464.95,164h3.1M466.5,162.45v3.1M476.95,170h3.1M478.5,168.45v3.1M475.45,160h3.1M477,158.45v3.1" stroke="#444" stroke-width="0.5" fill="none"/>
<path d="M545.76,179.11h3.1M547.31,177.56v3.1M547.86,171.9h3.1M549.41,170.35v3.1M549.87,162.14h3.1M551.42,160.59v3.1M552.31,158.76h3.1M553.86,157.21v3.1M553.96,161.18h3.1M555.51,159.63v3.1M556.06,171.47h3.1M557.61,169.92v3.1M557.81,180.79h3.1M559.36,179.24v3.1M560.23,185.16h3.1M561.78,183.61v3.1M561.77,181.81h3.1M563.32,180.26v3.1M563.8,171.2h3.1M565.35,169.65v3.1M566.12,163.09h3.1M567.67,161.54v3.1M567.95,158.74h3.1M569.5,157.19v3.1M570.08,160.55h3.1M571.63,159v3.1M571.94,169.26h3.1M573.49,167.71v3.1M573.8,178.78h3.1M575.35,177.23v3.1M576.16,185.44h3.1M577.71,183.89v3.1M577.85,180.17h3.1M579.4,178.62v3.1M580.34,172.44h3.1M581.89,170.89v3.1M581.99,162.05h3.1M583.54,160.5v3.1M584.11,158.57h3.1M585.66,157.02v3.1M586.02,160.32h3.1M587.57,158.77v3.1M587.78,170.26h3.1M589.33,168.71v3.1M589.77,179h3.1M591.32,177.45v3.1M592.25,183.27h3.1M593.8,181.72v3.1M594.19,182.81h3.1M595.74,181.26v3.1M596.13,173.82h3.1M597.68,172.27v3.1M597.81,163.14h3.1M599.36,161.59v3.1" stroke="#444" stroke-width="0.5" fill="none"/>
<path d="M416.74,239.51h3.1M418.29,237.96v3.1M418.83,247.88h3.1M420.38,246.33v3.1M421.25,255.45h3.1M422.8,253.9v3.1M423.24,252.97h3.1M424.79,251.42v3.1M424.94,246.33h3.1M426.49,244.78v3.1M426.94,234.93h3.1M428.49,233.38v3.1M428.89,228.05h3.1M430.44,226.5v3.1M430.88,231.85h3.1M432.43,230.3v3.1M433.23,238h3.1M434.78,236.45v3.1M434.95,246.8h3.1M436.5,245.25v3.1M436.7,253.13h3.1M438.25,251.58v3.1M439.12,254.8h3.1M440.67,253.25v3.1M440.87,247.25h3.1M442.42,245.7v3.1M443.11,237.06h3.1M444.66,235.51v3.1M445.05,230.51h3.1M446.6,228.96v3.1M446.87,230.51h3.1M448.42,228.96v3.1M448.82,236.78h3.1M450.37,235.23v3.1M451.11,247.38h3.1M452.66,245.83v3.1M452.83,255.28h3.1M454.38,253.73v3.1M455.04,254.07h3.1M456.59,252.52v3.1M456.66,247.09h3.1M458.21,245.54v3.1M458.8,237.68h3.1M460.35,236.13v3.1M460.93,231.01h3.1M462.48,229.46v3.1M463.04,230.56h3.1M464.59,229.01v3.1M464.86,236.65h3.1M466.41,235.1v3.1M467.09,247.16h3.1M468.64,245.61v3.1M468.86,254.6h3.1M470.41,253.05v3.1M471.17,254.71h3.1M472.72,253.16v3.1M473.24,249.25h3.1M474.79,247.7v3.1M474.96,237.88h3.1M476.51,236.33v3.1M476.75,231.42h3.1M478.3,229.87v3.1M479.21,229.17h3.1M480.76,227.62v3.1M481.06,236.25h3.1M482.61,234.7v3.1M445.65,217h3.1M447.2,215.45v3.1M446.75,225.3h3.1M448.3,223.75v3.1M459.45,224.5h3.1M461,222.95v3.1M463.35,224.5h3.1M464.9,222.95v3.1M464.85,221h3.1M466.4,219.45v3.1M477.55,219h3.1M479.1,217.45v3.1M478.65,222.3h3.1M480.2,220.75v3.1M470.15,260h3.1M471.7,258.45v3.1M481.45,258.5h3.1M483,256.95v3.1M480.35,249h3.1M481.9,247.45v3.1M474.85,250.4h3.1M476.4,248.85v3.1M453.15,256.4h3.1M454.7,254.85v3.1M468.95,259.5h3.1M470.5,257.95v3.1M443.95,235h3.1M445.5,233.45v3.1M442.45,239h3.1M444,237.45v3.1" stroke="#444" stroke-width="0.5" fill="none"/>
<path d="M545.54,236.4h2.8M546.94,235v2.8M546.57,237.09h2.8M547.97,235.69v2.8M547.5,236.76h2.8M548.9,235.36v2.8M548.47,237.36h2.8M549.87,235.96v2.8M549.48,237.22h2.8M550.88,235.82v2.8M550.12,236.16h2.8M551.52,234.76v2.8M551.36,237h2.8M552.76,235.6v2.8M552.23,237.03h2.8M553.63,235.63v2.8M553.48,235.83h2.8M554.88,234.43v2.8M554.38,236.12h2.8M555.78,234.72v2.8M555.13,235.87h2.8M556.53,234.47v2.8M556.29,235.87h2.8M557.69,234.47v2.8M557.22,235.52h2.8M558.62,234.12v2.8M558.38,236.06h2.8M559.78,234.66v2.8M559.47,236.35h2.8M560.87,234.95v2.8M560.24,236.83h2.8M561.64,235.43v2.8M561.1,235.85h2.8M562.5,234.45v2.8M562.27,235.68h2.8M563.67,234.28v2.8M563.17,236.24h2.8M564.57,234.84v2.8M564.32,234.6h2.8M565.72,233.2v2.8M565.47,234.51h2.8M566.87,233.11v2.8M566.43,234.75h2.8M567.83,233.35v2.8M567.45,235.66h2.8M568.85,234.26v2.8M568.59,234.49h2.8M569.99,233.09v2.8M569.59,235.02h2.8M570.99,233.62v2.8M570.32,234.32h2.8M571.72,232.92v2.8M571.46,235.27h2.8M572.86,233.87v2.8M572.67,236.2h2.8M574.07,234.8v2.8M573.47,235.29h2.8M574.87,233.89v2.8M574.64,235.18h2.8M576.04,233.78v2.8M575.16,236.8h2.8M576.56,235.4v2.8M576.47,236.63h2.8M577.87,235.23v2.8M577.48,238.58h2.8M578.88,237.18v2.8M578.33,238.36h2.8M579.73,236.96v2.8M579.24,238.29h2.8M580.64,236.89v2.8M580.68,238.52h2.8M582.08,237.12v2.8M581.68,239.56h2.8M583.08,238.16v2.8M582.46,238.46h2.8M583.86,237.06v2.8M583.69,238.97h2.8M585.09,237.57v2.8M584.35,238.73h2.8M585.75,237.33v2.8M585.69,239.11h2.8M587.09,237.71v2.8M586.27,239.17h2.8M587.67,237.77v2.8M587.17,239.5h2.8M588.57,238.1v2.8M588.37,239.06h2.8M589.77,237.66v2.8M589.57,240.18h2.8M590.97,238.78v2.8M590.11,239.81h2.8M591.51,238.41v2.8M591.26,240.7h2.8M592.66,239.3v2.8M592.57,239.62h2.8M593.97,238.22v2.8M593.26,239.62h2.8M594.66,238.22v2.8M594.69,240.03h2.8M596.09,238.63v2.8M595.46,240.52h2.8M596.86,239.12v2.8M596.49,240.68h2.8M597.89,239.28v2.8M597.55,239.67h2.8M598.95,238.27v2.8" stroke="#444" stroke-width="0.5" fill="none"/>
<text x="494.9" y="172.9" font-size="6.8" text-anchor="start" fill="#222" font-weight="normal" font-style="normal" stroke="#222" stroke-width="0.2" ><tspan font-family="Liberation Serif" font-style="italic" font-size="7.6">&#960;</tspan><tspan font-family="Liberation Serif" font-size="7.4">/2</tspan> - pulses</text>
<text x="498.4" y="239.5" font-size="6.8" text-anchor="start" fill="#222" font-weight="normal" font-style="normal" stroke="#222" stroke-width="0.2" ><tspan font-family="Liberation Serif" font-style="italic" font-size="7.6">&#960;</tspan> - pulses</text>
<text x="585" y="147.6" font-size="8.6" text-anchor="start" fill="#111" font-weight="normal" font-style="normal" stroke="#111" stroke-width="0.35" >6 T</text>
<text x="585" y="221.9" font-size="8.6" text-anchor="start" fill="#111" font-weight="normal" font-style="normal" stroke="#111" stroke-width="0.35" >6 T</text>
<text transform="translate(386.9,203.4) rotate(-90)" font-size="7" text-anchor="middle" fill="#222" stroke="#222" stroke-width="0.2">Average counts per bin [s<tspan font-size="4.2" dy="-2.6">-1</tspan><tspan dy="2.6">]</tspan></text>
<text x="468.2" y="294.2" font-size="6.5" text-anchor="start" fill="#222" font-weight="normal" font-style="normal" stroke="#222" stroke-width="0.2" >Pulse Separation</text>
<text x="520.9" y="294.2" font-size="6.6" text-anchor="start" fill="#222" font-weight="normal" font-style="normal" stroke="#222" stroke-width="0.2" >&#916;</text>
<text x="525.6" y="294.2" font-size="6.6" text-anchor="start" fill="#222" font-weight="normal" font-style="italic" stroke="#222" stroke-width="0.1" >t</text>
<text x="533.1" y="294.2" font-size="6.5" text-anchor="start" fill="#222" font-weight="normal" font-style="normal" stroke="#222" stroke-width="0.2" >[ps]</text>
</svg></body></html>
